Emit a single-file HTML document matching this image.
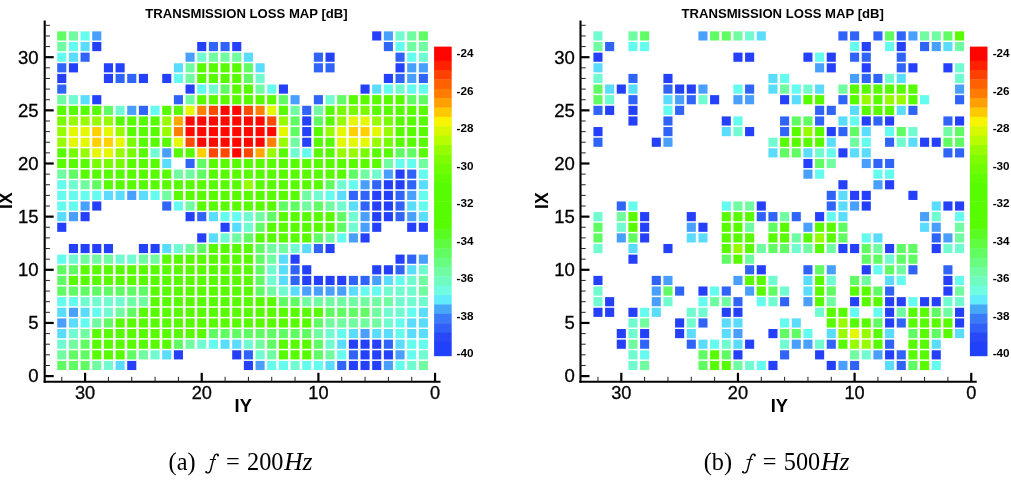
<!DOCTYPE html>
<html><head><meta charset="utf-8"><style>
html,body{margin:0;padding:0;background:#fff;}
body{width:1011px;height:483px;overflow:hidden;position:relative;}
svg{position:absolute;left:0;top:0;filter:blur(0.35px);}
rect[class]{width:9.1px;height:9.15px;}
.c0{fill:#2440fa}.c1{fill:#3064f8}.c2{fill:#48a0fc}.c3{fill:#5adcfc}.c4{fill:#64fcee}.c5{fill:#70fcd0}.c6{fill:#70fca0}.c7{fill:#60fc64}.c8{fill:#58fc00}.ch{fill:#78fc00}.c9{fill:#98fc00}.ca{fill:#e4f800}.cb{fill:#ffd000}.cc{fill:#ff8000}.cd{fill:#ff4800}.ce{fill:#ff0800}.co{fill:#ffa800}
.ax{stroke:#000;stroke-width:2.1;}
.tk{stroke:#000;stroke-width:2.2;}
.mt{stroke:#222;stroke-width:1.0;}
text{font-family:"Liberation Sans",sans-serif;fill:#000;}
.tl{font-size:17.5px;stroke:#000;stroke-width:0.3px;}
.al{font-size:17.6px;font-weight:bold;}
.tt{font-size:13.6px;font-weight:bold;}
.cl{font-size:11.7px;font-weight:bold;}
.cap{font-family:"Liberation Serif",serif;font-size:24.3px;}
</style></head><body>
<svg width="1011" height="483" viewBox="0 0 1011 483">
<rect class="c7" x="57.22" y="31.36" width="9.1" height="9.15"/>
<rect class="c6" x="68.89" y="31.36" width="9.1" height="9.15"/>
<rect class="c4" x="80.55" y="31.36" width="9.1" height="9.15"/>
<rect class="c2" x="92.22" y="31.36" width="9.1" height="9.15"/>
<rect class="c0" x="372.18" y="31.36" width="9.1" height="9.15"/>
<rect class="c2" x="383.84" y="31.36" width="9.1" height="9.15"/>
<rect class="c5" x="395.5" y="31.36" width="9.1" height="9.15"/>
<rect class="c6" x="407.17" y="31.36" width="9.1" height="9.15"/>
<rect class="c7" x="418.83" y="31.36" width="9.1" height="9.15"/>
<rect class="c6" x="57.22" y="41.99" width="9.1" height="9.15"/>
<rect class="c4" x="68.89" y="41.99" width="9.1" height="9.15"/>
<rect class="c3" x="80.55" y="41.99" width="9.1" height="9.15"/>
<rect class="c0" x="92.22" y="41.99" width="9.1" height="9.15"/>
<rect class="c0" x="197.2" y="41.99" width="9.1" height="9.15"/>
<rect class="c1" x="208.87" y="41.99" width="9.1" height="9.15"/>
<rect class="c1" x="220.53" y="41.99" width="9.1" height="9.15"/>
<rect class="c0" x="232.2" y="41.99" width="9.1" height="9.15"/>
<rect class="c1" x="383.84" y="41.99" width="9.1" height="9.15"/>
<rect class="c4" x="395.5" y="41.99" width="9.1" height="9.15"/>
<rect class="c6" x="407.17" y="41.99" width="9.1" height="9.15"/>
<rect class="c6" x="418.83" y="41.99" width="9.1" height="9.15"/>
<rect class="c4" x="57.22" y="52.62" width="9.1" height="9.15"/>
<rect class="c3" x="68.89" y="52.62" width="9.1" height="9.15"/>
<rect class="c1" x="80.55" y="52.62" width="9.1" height="9.15"/>
<rect class="c2" x="185.54" y="52.62" width="9.1" height="9.15"/>
<rect class="c5" x="197.2" y="52.62" width="9.1" height="9.15"/>
<rect class="c6" x="208.87" y="52.62" width="9.1" height="9.15"/>
<rect class="c6" x="220.53" y="52.62" width="9.1" height="9.15"/>
<rect class="c6" x="232.2" y="52.62" width="9.1" height="9.15"/>
<rect class="c3" x="243.86" y="52.62" width="9.1" height="9.15"/>
<rect class="c1" x="313.85" y="52.62" width="9.1" height="9.15"/>
<rect class="c0" x="325.52" y="52.62" width="9.1" height="9.15"/>
<rect class="c1" x="395.5" y="52.62" width="9.1" height="9.15"/>
<rect class="c4" x="407.17" y="52.62" width="9.1" height="9.15"/>
<rect class="c5" x="418.83" y="52.62" width="9.1" height="9.15"/>
<rect class="c1" x="57.22" y="63.25" width="9.1" height="9.15"/>
<rect class="c0" x="68.89" y="63.25" width="9.1" height="9.15"/>
<rect class="c0" x="103.88" y="63.25" width="9.1" height="9.15"/>
<rect class="c0" x="115.55" y="63.25" width="9.1" height="9.15"/>
<rect class="c3" x="173.87" y="63.25" width="9.1" height="9.15"/>
<rect class="c6" x="185.54" y="63.25" width="9.1" height="9.15"/>
<rect class="c8" x="197.2" y="63.25" width="9.1" height="9.15"/>
<rect class="c8" x="208.87" y="63.25" width="9.1" height="9.15"/>
<rect class="c8" x="220.53" y="63.25" width="9.1" height="9.15"/>
<rect class="c8" x="232.2" y="63.25" width="9.1" height="9.15"/>
<rect class="c7" x="243.86" y="63.25" width="9.1" height="9.15"/>
<rect class="c3" x="255.53" y="63.25" width="9.1" height="9.15"/>
<rect class="c1" x="313.85" y="63.25" width="9.1" height="9.15"/>
<rect class="c1" x="325.52" y="63.25" width="9.1" height="9.15"/>
<rect class="c0" x="395.5" y="63.25" width="9.1" height="9.15"/>
<rect class="c2" x="407.17" y="63.25" width="9.1" height="9.15"/>
<rect class="c2" x="418.83" y="63.25" width="9.1" height="9.15"/>
<rect class="c0" x="57.22" y="73.88" width="9.1" height="9.15"/>
<rect class="c0" x="103.88" y="73.88" width="9.1" height="9.15"/>
<rect class="c1" x="115.55" y="73.88" width="9.1" height="9.15"/>
<rect class="c1" x="127.21" y="73.88" width="9.1" height="9.15"/>
<rect class="c0" x="138.88" y="73.88" width="9.1" height="9.15"/>
<rect class="c0" x="162.21" y="73.88" width="9.1" height="9.15"/>
<rect class="c4" x="173.87" y="73.88" width="9.1" height="9.15"/>
<rect class="c6" x="185.54" y="73.88" width="9.1" height="9.15"/>
<rect class="c8" x="197.2" y="73.88" width="9.1" height="9.15"/>
<rect class="c8" x="208.87" y="73.88" width="9.1" height="9.15"/>
<rect class="c8" x="220.53" y="73.88" width="9.1" height="9.15"/>
<rect class="c8" x="232.2" y="73.88" width="9.1" height="9.15"/>
<rect class="c7" x="243.86" y="73.88" width="9.1" height="9.15"/>
<rect class="c5" x="255.53" y="73.88" width="9.1" height="9.15"/>
<rect class="c0" x="383.84" y="73.88" width="9.1" height="9.15"/>
<rect class="c1" x="395.5" y="73.88" width="9.1" height="9.15"/>
<rect class="c2" x="407.17" y="73.88" width="9.1" height="9.15"/>
<rect class="c1" x="418.83" y="73.88" width="9.1" height="9.15"/>
<rect class="c1" x="57.22" y="84.51" width="9.1" height="9.15"/>
<rect class="c0" x="185.54" y="84.51" width="9.1" height="9.15"/>
<rect class="c4" x="197.2" y="84.51" width="9.1" height="9.15"/>
<rect class="c5" x="208.87" y="84.51" width="9.1" height="9.15"/>
<rect class="c7" x="220.53" y="84.51" width="9.1" height="9.15"/>
<rect class="c8" x="232.2" y="84.51" width="9.1" height="9.15"/>
<rect class="c8" x="243.86" y="84.51" width="9.1" height="9.15"/>
<rect class="c6" x="255.53" y="84.51" width="9.1" height="9.15"/>
<rect class="c4" x="267.19" y="84.51" width="9.1" height="9.15"/>
<rect class="c0" x="278.86" y="84.51" width="9.1" height="9.15"/>
<rect class="c0" x="360.51" y="84.51" width="9.1" height="9.15"/>
<rect class="c3" x="372.18" y="84.51" width="9.1" height="9.15"/>
<rect class="c4" x="383.84" y="84.51" width="9.1" height="9.15"/>
<rect class="c5" x="395.5" y="84.51" width="9.1" height="9.15"/>
<rect class="c4" x="407.17" y="84.51" width="9.1" height="9.15"/>
<rect class="c4" x="418.83" y="84.51" width="9.1" height="9.15"/>
<rect class="c6" x="57.22" y="95.15" width="9.1" height="9.15"/>
<rect class="c5" x="68.89" y="95.15" width="9.1" height="9.15"/>
<rect class="c3" x="80.55" y="95.15" width="9.1" height="9.15"/>
<rect class="c0" x="92.22" y="95.15" width="9.1" height="9.15"/>
<rect class="c1" x="173.87" y="95.15" width="9.1" height="9.15"/>
<rect class="c6" x="185.54" y="95.15" width="9.1" height="9.15"/>
<rect class="c8" x="197.2" y="95.15" width="9.1" height="9.15"/>
<rect class="c8" x="208.87" y="95.15" width="9.1" height="9.15"/>
<rect class="c8" x="220.53" y="95.15" width="9.1" height="9.15"/>
<rect class="c8" x="232.2" y="95.15" width="9.1" height="9.15"/>
<rect class="c8" x="243.86" y="95.15" width="9.1" height="9.15"/>
<rect class="c8" x="255.53" y="95.15" width="9.1" height="9.15"/>
<rect class="c8" x="267.19" y="95.15" width="9.1" height="9.15"/>
<rect class="c7" x="278.86" y="95.15" width="9.1" height="9.15"/>
<rect class="c2" x="290.52" y="95.15" width="9.1" height="9.15"/>
<rect class="c1" x="313.85" y="95.15" width="9.1" height="9.15"/>
<rect class="c5" x="325.52" y="95.15" width="9.1" height="9.15"/>
<rect class="c7" x="337.18" y="95.15" width="9.1" height="9.15"/>
<rect class="c8" x="348.84" y="95.15" width="9.1" height="9.15"/>
<rect class="c8" x="360.51" y="95.15" width="9.1" height="9.15"/>
<rect class="c8" x="372.18" y="95.15" width="9.1" height="9.15"/>
<rect class="c8" x="383.84" y="95.15" width="9.1" height="9.15"/>
<rect class="c8" x="395.5" y="95.15" width="9.1" height="9.15"/>
<rect class="c7" x="407.17" y="95.15" width="9.1" height="9.15"/>
<rect class="c7" x="418.83" y="95.15" width="9.1" height="9.15"/>
<rect class="c8" x="57.22" y="105.78" width="9.1" height="9.15"/>
<rect class="c8" x="68.89" y="105.78" width="9.1" height="9.15"/>
<rect class="c8" x="80.55" y="105.78" width="9.1" height="9.15"/>
<rect class="c8" x="92.22" y="105.78" width="9.1" height="9.15"/>
<rect class="c7" x="103.88" y="105.78" width="9.1" height="9.15"/>
<rect class="c5" x="115.55" y="105.78" width="9.1" height="9.15"/>
<rect class="c2" x="127.21" y="105.78" width="9.1" height="9.15"/>
<rect class="c1" x="138.88" y="105.78" width="9.1" height="9.15"/>
<rect class="c4" x="150.54" y="105.78" width="9.1" height="9.15"/>
<rect class="c8" x="162.21" y="105.78" width="9.1" height="9.15"/>
<rect class="c8" x="173.87" y="105.78" width="9.1" height="9.15"/>
<rect class="ca" x="185.54" y="105.78" width="9.1" height="9.15"/>
<rect class="cc" x="197.2" y="105.78" width="9.1" height="9.15"/>
<rect class="cd" x="208.87" y="105.78" width="9.1" height="9.15"/>
<rect class="ce" x="220.53" y="105.78" width="9.1" height="9.15"/>
<rect class="ce" x="232.2" y="105.78" width="9.1" height="9.15"/>
<rect class="cd" x="243.86" y="105.78" width="9.1" height="9.15"/>
<rect class="cc" x="255.53" y="105.78" width="9.1" height="9.15"/>
<rect class="ca" x="267.19" y="105.78" width="9.1" height="9.15"/>
<rect class="c8" x="278.86" y="105.78" width="9.1" height="9.15"/>
<rect class="c6" x="290.52" y="105.78" width="9.1" height="9.15"/>
<rect class="c1" x="302.19" y="105.78" width="9.1" height="9.15"/>
<rect class="c6" x="313.85" y="105.78" width="9.1" height="9.15"/>
<rect class="c8" x="325.52" y="105.78" width="9.1" height="9.15"/>
<rect class="ch" x="337.18" y="105.78" width="9.1" height="9.15"/>
<rect class="ch" x="348.84" y="105.78" width="9.1" height="9.15"/>
<rect class="ch" x="360.51" y="105.78" width="9.1" height="9.15"/>
<rect class="c8" x="372.18" y="105.78" width="9.1" height="9.15"/>
<rect class="c8" x="383.84" y="105.78" width="9.1" height="9.15"/>
<rect class="c8" x="395.5" y="105.78" width="9.1" height="9.15"/>
<rect class="c8" x="407.17" y="105.78" width="9.1" height="9.15"/>
<rect class="c8" x="418.83" y="105.78" width="9.1" height="9.15"/>
<rect class="ch" x="57.22" y="116.41" width="9.1" height="9.15"/>
<rect class="c9" x="68.89" y="116.41" width="9.1" height="9.15"/>
<rect class="c9" x="80.55" y="116.41" width="9.1" height="9.15"/>
<rect class="c9" x="92.22" y="116.41" width="9.1" height="9.15"/>
<rect class="c9" x="103.88" y="116.41" width="9.1" height="9.15"/>
<rect class="c8" x="115.55" y="116.41" width="9.1" height="9.15"/>
<rect class="c8" x="127.21" y="116.41" width="9.1" height="9.15"/>
<rect class="c8" x="138.88" y="116.41" width="9.1" height="9.15"/>
<rect class="c8" x="150.54" y="116.41" width="9.1" height="9.15"/>
<rect class="c9" x="162.21" y="116.41" width="9.1" height="9.15"/>
<rect class="co" x="173.87" y="116.41" width="9.1" height="9.15"/>
<rect class="ce" x="185.54" y="116.41" width="9.1" height="9.15"/>
<rect class="ce" x="197.2" y="116.41" width="9.1" height="9.15"/>
<rect class="ce" x="208.87" y="116.41" width="9.1" height="9.15"/>
<rect class="ce" x="220.53" y="116.41" width="9.1" height="9.15"/>
<rect class="ce" x="232.2" y="116.41" width="9.1" height="9.15"/>
<rect class="ce" x="243.86" y="116.41" width="9.1" height="9.15"/>
<rect class="ce" x="255.53" y="116.41" width="9.1" height="9.15"/>
<rect class="cd" x="267.19" y="116.41" width="9.1" height="9.15"/>
<rect class="c9" x="278.86" y="116.41" width="9.1" height="9.15"/>
<rect class="c7" x="290.52" y="116.41" width="9.1" height="9.15"/>
<rect class="c0" x="302.19" y="116.41" width="9.1" height="9.15"/>
<rect class="c7" x="313.85" y="116.41" width="9.1" height="9.15"/>
<rect class="c8" x="325.52" y="116.41" width="9.1" height="9.15"/>
<rect class="c9" x="337.18" y="116.41" width="9.1" height="9.15"/>
<rect class="ca" x="348.84" y="116.41" width="9.1" height="9.15"/>
<rect class="ca" x="360.51" y="116.41" width="9.1" height="9.15"/>
<rect class="c9" x="372.18" y="116.41" width="9.1" height="9.15"/>
<rect class="ch" x="383.84" y="116.41" width="9.1" height="9.15"/>
<rect class="c8" x="395.5" y="116.41" width="9.1" height="9.15"/>
<rect class="c8" x="407.17" y="116.41" width="9.1" height="9.15"/>
<rect class="c8" x="418.83" y="116.41" width="9.1" height="9.15"/>
<rect class="c9" x="57.22" y="127.04" width="9.1" height="9.15"/>
<rect class="ca" x="68.89" y="127.04" width="9.1" height="9.15"/>
<rect class="ca" x="80.55" y="127.04" width="9.1" height="9.15"/>
<rect class="cb" x="92.22" y="127.04" width="9.1" height="9.15"/>
<rect class="ca" x="103.88" y="127.04" width="9.1" height="9.15"/>
<rect class="c9" x="115.55" y="127.04" width="9.1" height="9.15"/>
<rect class="c8" x="127.21" y="127.04" width="9.1" height="9.15"/>
<rect class="c8" x="138.88" y="127.04" width="9.1" height="9.15"/>
<rect class="c8" x="150.54" y="127.04" width="9.1" height="9.15"/>
<rect class="c9" x="162.21" y="127.04" width="9.1" height="9.15"/>
<rect class="cc" x="173.87" y="127.04" width="9.1" height="9.15"/>
<rect class="ce" x="185.54" y="127.04" width="9.1" height="9.15"/>
<rect class="ce" x="197.2" y="127.04" width="9.1" height="9.15"/>
<rect class="ce" x="208.87" y="127.04" width="9.1" height="9.15"/>
<rect class="ce" x="220.53" y="127.04" width="9.1" height="9.15"/>
<rect class="ce" x="232.2" y="127.04" width="9.1" height="9.15"/>
<rect class="ce" x="243.86" y="127.04" width="9.1" height="9.15"/>
<rect class="ce" x="255.53" y="127.04" width="9.1" height="9.15"/>
<rect class="ce" x="267.19" y="127.04" width="9.1" height="9.15"/>
<rect class="ca" x="278.86" y="127.04" width="9.1" height="9.15"/>
<rect class="c7" x="290.52" y="127.04" width="9.1" height="9.15"/>
<rect class="c0" x="302.19" y="127.04" width="9.1" height="9.15"/>
<rect class="c8" x="313.85" y="127.04" width="9.1" height="9.15"/>
<rect class="c9" x="325.52" y="127.04" width="9.1" height="9.15"/>
<rect class="ca" x="337.18" y="127.04" width="9.1" height="9.15"/>
<rect class="cb" x="348.84" y="127.04" width="9.1" height="9.15"/>
<rect class="cb" x="360.51" y="127.04" width="9.1" height="9.15"/>
<rect class="ca" x="372.18" y="127.04" width="9.1" height="9.15"/>
<rect class="c9" x="383.84" y="127.04" width="9.1" height="9.15"/>
<rect class="c8" x="395.5" y="127.04" width="9.1" height="9.15"/>
<rect class="c8" x="407.17" y="127.04" width="9.1" height="9.15"/>
<rect class="c8" x="418.83" y="127.04" width="9.1" height="9.15"/>
<rect class="c9" x="57.22" y="137.67" width="9.1" height="9.15"/>
<rect class="ca" x="68.89" y="137.67" width="9.1" height="9.15"/>
<rect class="ca" x="80.55" y="137.67" width="9.1" height="9.15"/>
<rect class="cb" x="92.22" y="137.67" width="9.1" height="9.15"/>
<rect class="cb" x="103.88" y="137.67" width="9.1" height="9.15"/>
<rect class="ca" x="115.55" y="137.67" width="9.1" height="9.15"/>
<rect class="ch" x="127.21" y="137.67" width="9.1" height="9.15"/>
<rect class="c8" x="138.88" y="137.67" width="9.1" height="9.15"/>
<rect class="c8" x="150.54" y="137.67" width="9.1" height="9.15"/>
<rect class="c8" x="162.21" y="137.67" width="9.1" height="9.15"/>
<rect class="ca" x="173.87" y="137.67" width="9.1" height="9.15"/>
<rect class="cd" x="185.54" y="137.67" width="9.1" height="9.15"/>
<rect class="ce" x="197.2" y="137.67" width="9.1" height="9.15"/>
<rect class="ce" x="208.87" y="137.67" width="9.1" height="9.15"/>
<rect class="ce" x="220.53" y="137.67" width="9.1" height="9.15"/>
<rect class="ce" x="232.2" y="137.67" width="9.1" height="9.15"/>
<rect class="ce" x="243.86" y="137.67" width="9.1" height="9.15"/>
<rect class="ce" x="255.53" y="137.67" width="9.1" height="9.15"/>
<rect class="cc" x="267.19" y="137.67" width="9.1" height="9.15"/>
<rect class="c9" x="278.86" y="137.67" width="9.1" height="9.15"/>
<rect class="c6" x="290.52" y="137.67" width="9.1" height="9.15"/>
<rect class="c0" x="302.19" y="137.67" width="9.1" height="9.15"/>
<rect class="c8" x="313.85" y="137.67" width="9.1" height="9.15"/>
<rect class="c8" x="325.52" y="137.67" width="9.1" height="9.15"/>
<rect class="ca" x="337.18" y="137.67" width="9.1" height="9.15"/>
<rect class="ca" x="348.84" y="137.67" width="9.1" height="9.15"/>
<rect class="ca" x="360.51" y="137.67" width="9.1" height="9.15"/>
<rect class="c9" x="372.18" y="137.67" width="9.1" height="9.15"/>
<rect class="ch" x="383.84" y="137.67" width="9.1" height="9.15"/>
<rect class="c8" x="395.5" y="137.67" width="9.1" height="9.15"/>
<rect class="c8" x="407.17" y="137.67" width="9.1" height="9.15"/>
<rect class="c8" x="418.83" y="137.67" width="9.1" height="9.15"/>
<rect class="c8" x="57.22" y="148.3" width="9.1" height="9.15"/>
<rect class="ch" x="68.89" y="148.3" width="9.1" height="9.15"/>
<rect class="c9" x="80.55" y="148.3" width="9.1" height="9.15"/>
<rect class="ca" x="92.22" y="148.3" width="9.1" height="9.15"/>
<rect class="ca" x="103.88" y="148.3" width="9.1" height="9.15"/>
<rect class="c9" x="115.55" y="148.3" width="9.1" height="9.15"/>
<rect class="ch" x="127.21" y="148.3" width="9.1" height="9.15"/>
<rect class="c8" x="138.88" y="148.3" width="9.1" height="9.15"/>
<rect class="c5" x="150.54" y="148.3" width="9.1" height="9.15"/>
<rect class="c2" x="162.21" y="148.3" width="9.1" height="9.15"/>
<rect class="c8" x="173.87" y="148.3" width="9.1" height="9.15"/>
<rect class="c8" x="185.54" y="148.3" width="9.1" height="9.15"/>
<rect class="cb" x="197.2" y="148.3" width="9.1" height="9.15"/>
<rect class="cd" x="208.87" y="148.3" width="9.1" height="9.15"/>
<rect class="cd" x="220.53" y="148.3" width="9.1" height="9.15"/>
<rect class="ce" x="232.2" y="148.3" width="9.1" height="9.15"/>
<rect class="cd" x="243.86" y="148.3" width="9.1" height="9.15"/>
<rect class="co" x="255.53" y="148.3" width="9.1" height="9.15"/>
<rect class="c9" x="267.19" y="148.3" width="9.1" height="9.15"/>
<rect class="c8" x="278.86" y="148.3" width="9.1" height="9.15"/>
<rect class="c5" x="290.52" y="148.3" width="9.1" height="9.15"/>
<rect class="c4" x="302.19" y="148.3" width="9.1" height="9.15"/>
<rect class="c8" x="313.85" y="148.3" width="9.1" height="9.15"/>
<rect class="c8" x="325.52" y="148.3" width="9.1" height="9.15"/>
<rect class="c9" x="337.18" y="148.3" width="9.1" height="9.15"/>
<rect class="c9" x="348.84" y="148.3" width="9.1" height="9.15"/>
<rect class="ch" x="360.51" y="148.3" width="9.1" height="9.15"/>
<rect class="c8" x="372.18" y="148.3" width="9.1" height="9.15"/>
<rect class="c8" x="383.84" y="148.3" width="9.1" height="9.15"/>
<rect class="c7" x="395.5" y="148.3" width="9.1" height="9.15"/>
<rect class="c7" x="407.17" y="148.3" width="9.1" height="9.15"/>
<rect class="c8" x="418.83" y="148.3" width="9.1" height="9.15"/>
<rect class="c8" x="57.22" y="158.93" width="9.1" height="9.15"/>
<rect class="c8" x="68.89" y="158.93" width="9.1" height="9.15"/>
<rect class="c8" x="80.55" y="158.93" width="9.1" height="9.15"/>
<rect class="ch" x="92.22" y="158.93" width="9.1" height="9.15"/>
<rect class="ch" x="103.88" y="158.93" width="9.1" height="9.15"/>
<rect class="ch" x="115.55" y="158.93" width="9.1" height="9.15"/>
<rect class="c8" x="127.21" y="158.93" width="9.1" height="9.15"/>
<rect class="c8" x="138.88" y="158.93" width="9.1" height="9.15"/>
<rect class="c8" x="150.54" y="158.93" width="9.1" height="9.15"/>
<rect class="c3" x="162.21" y="158.93" width="9.1" height="9.15"/>
<rect class="c1" x="185.54" y="158.93" width="9.1" height="9.15"/>
<rect class="c7" x="197.2" y="158.93" width="9.1" height="9.15"/>
<rect class="c8" x="208.87" y="158.93" width="9.1" height="9.15"/>
<rect class="c8" x="220.53" y="158.93" width="9.1" height="9.15"/>
<rect class="c8" x="232.2" y="158.93" width="9.1" height="9.15"/>
<rect class="c8" x="243.86" y="158.93" width="9.1" height="9.15"/>
<rect class="c8" x="255.53" y="158.93" width="9.1" height="9.15"/>
<rect class="c8" x="267.19" y="158.93" width="9.1" height="9.15"/>
<rect class="c8" x="278.86" y="158.93" width="9.1" height="9.15"/>
<rect class="c8" x="290.52" y="158.93" width="9.1" height="9.15"/>
<rect class="c8" x="302.19" y="158.93" width="9.1" height="9.15"/>
<rect class="c8" x="313.85" y="158.93" width="9.1" height="9.15"/>
<rect class="c8" x="325.52" y="158.93" width="9.1" height="9.15"/>
<rect class="c8" x="337.18" y="158.93" width="9.1" height="9.15"/>
<rect class="c8" x="348.84" y="158.93" width="9.1" height="9.15"/>
<rect class="c8" x="360.51" y="158.93" width="9.1" height="9.15"/>
<rect class="c8" x="372.18" y="158.93" width="9.1" height="9.15"/>
<rect class="c6" x="383.84" y="158.93" width="9.1" height="9.15"/>
<rect class="c4" x="395.5" y="158.93" width="9.1" height="9.15"/>
<rect class="c4" x="407.17" y="158.93" width="9.1" height="9.15"/>
<rect class="c6" x="418.83" y="158.93" width="9.1" height="9.15"/>
<rect class="c6" x="57.22" y="169.56" width="9.1" height="9.15"/>
<rect class="c7" x="68.89" y="169.56" width="9.1" height="9.15"/>
<rect class="c8" x="80.55" y="169.56" width="9.1" height="9.15"/>
<rect class="c8" x="92.22" y="169.56" width="9.1" height="9.15"/>
<rect class="c8" x="103.88" y="169.56" width="9.1" height="9.15"/>
<rect class="c8" x="115.55" y="169.56" width="9.1" height="9.15"/>
<rect class="c8" x="127.21" y="169.56" width="9.1" height="9.15"/>
<rect class="c8" x="138.88" y="169.56" width="9.1" height="9.15"/>
<rect class="c8" x="150.54" y="169.56" width="9.1" height="9.15"/>
<rect class="c8" x="162.21" y="169.56" width="9.1" height="9.15"/>
<rect class="c6" x="173.87" y="169.56" width="9.1" height="9.15"/>
<rect class="c6" x="185.54" y="169.56" width="9.1" height="9.15"/>
<rect class="c7" x="197.2" y="169.56" width="9.1" height="9.15"/>
<rect class="c8" x="208.87" y="169.56" width="9.1" height="9.15"/>
<rect class="c8" x="220.53" y="169.56" width="9.1" height="9.15"/>
<rect class="c8" x="232.2" y="169.56" width="9.1" height="9.15"/>
<rect class="c8" x="243.86" y="169.56" width="9.1" height="9.15"/>
<rect class="c8" x="255.53" y="169.56" width="9.1" height="9.15"/>
<rect class="c8" x="267.19" y="169.56" width="9.1" height="9.15"/>
<rect class="c8" x="278.86" y="169.56" width="9.1" height="9.15"/>
<rect class="c8" x="290.52" y="169.56" width="9.1" height="9.15"/>
<rect class="c8" x="302.19" y="169.56" width="9.1" height="9.15"/>
<rect class="c8" x="313.85" y="169.56" width="9.1" height="9.15"/>
<rect class="c8" x="325.52" y="169.56" width="9.1" height="9.15"/>
<rect class="c8" x="337.18" y="169.56" width="9.1" height="9.15"/>
<rect class="c7" x="348.84" y="169.56" width="9.1" height="9.15"/>
<rect class="c6" x="360.51" y="169.56" width="9.1" height="9.15"/>
<rect class="c5" x="372.18" y="169.56" width="9.1" height="9.15"/>
<rect class="c2" x="383.84" y="169.56" width="9.1" height="9.15"/>
<rect class="c0" x="395.5" y="169.56" width="9.1" height="9.15"/>
<rect class="c1" x="407.17" y="169.56" width="9.1" height="9.15"/>
<rect class="c4" x="418.83" y="169.56" width="9.1" height="9.15"/>
<rect class="c4" x="57.22" y="180.19" width="9.1" height="9.15"/>
<rect class="c5" x="68.89" y="180.19" width="9.1" height="9.15"/>
<rect class="c6" x="80.55" y="180.19" width="9.1" height="9.15"/>
<rect class="c7" x="92.22" y="180.19" width="9.1" height="9.15"/>
<rect class="c8" x="103.88" y="180.19" width="9.1" height="9.15"/>
<rect class="c8" x="115.55" y="180.19" width="9.1" height="9.15"/>
<rect class="c8" x="127.21" y="180.19" width="9.1" height="9.15"/>
<rect class="c8" x="138.88" y="180.19" width="9.1" height="9.15"/>
<rect class="c8" x="150.54" y="180.19" width="9.1" height="9.15"/>
<rect class="c8" x="162.21" y="180.19" width="9.1" height="9.15"/>
<rect class="c8" x="173.87" y="180.19" width="9.1" height="9.15"/>
<rect class="c8" x="185.54" y="180.19" width="9.1" height="9.15"/>
<rect class="c8" x="197.2" y="180.19" width="9.1" height="9.15"/>
<rect class="c8" x="208.87" y="180.19" width="9.1" height="9.15"/>
<rect class="c8" x="220.53" y="180.19" width="9.1" height="9.15"/>
<rect class="c8" x="232.2" y="180.19" width="9.1" height="9.15"/>
<rect class="c9" x="243.86" y="180.19" width="9.1" height="9.15"/>
<rect class="c8" x="255.53" y="180.19" width="9.1" height="9.15"/>
<rect class="c8" x="267.19" y="180.19" width="9.1" height="9.15"/>
<rect class="c8" x="278.86" y="180.19" width="9.1" height="9.15"/>
<rect class="c8" x="290.52" y="180.19" width="9.1" height="9.15"/>
<rect class="c8" x="302.19" y="180.19" width="9.1" height="9.15"/>
<rect class="c8" x="313.85" y="180.19" width="9.1" height="9.15"/>
<rect class="c7" x="325.52" y="180.19" width="9.1" height="9.15"/>
<rect class="c5" x="337.18" y="180.19" width="9.1" height="9.15"/>
<rect class="c4" x="348.84" y="180.19" width="9.1" height="9.15"/>
<rect class="c2" x="360.51" y="180.19" width="9.1" height="9.15"/>
<rect class="c1" x="372.18" y="180.19" width="9.1" height="9.15"/>
<rect class="c0" x="383.84" y="180.19" width="9.1" height="9.15"/>
<rect class="c0" x="395.5" y="180.19" width="9.1" height="9.15"/>
<rect class="c1" x="407.17" y="180.19" width="9.1" height="9.15"/>
<rect class="c3" x="418.83" y="180.19" width="9.1" height="9.15"/>
<rect class="c4" x="57.22" y="190.82" width="9.1" height="9.15"/>
<rect class="c4" x="68.89" y="190.82" width="9.1" height="9.15"/>
<rect class="c4" x="80.55" y="190.82" width="9.1" height="9.15"/>
<rect class="c4" x="92.22" y="190.82" width="9.1" height="9.15"/>
<rect class="c3" x="103.88" y="190.82" width="9.1" height="9.15"/>
<rect class="c3" x="115.55" y="190.82" width="9.1" height="9.15"/>
<rect class="c2" x="127.21" y="190.82" width="9.1" height="9.15"/>
<rect class="c3" x="138.88" y="190.82" width="9.1" height="9.15"/>
<rect class="c4" x="150.54" y="190.82" width="9.1" height="9.15"/>
<rect class="c6" x="162.21" y="190.82" width="9.1" height="9.15"/>
<rect class="c8" x="173.87" y="190.82" width="9.1" height="9.15"/>
<rect class="c8" x="185.54" y="190.82" width="9.1" height="9.15"/>
<rect class="c8" x="197.2" y="190.82" width="9.1" height="9.15"/>
<rect class="c8" x="208.87" y="190.82" width="9.1" height="9.15"/>
<rect class="c8" x="220.53" y="190.82" width="9.1" height="9.15"/>
<rect class="c8" x="232.2" y="190.82" width="9.1" height="9.15"/>
<rect class="c8" x="243.86" y="190.82" width="9.1" height="9.15"/>
<rect class="c8" x="255.53" y="190.82" width="9.1" height="9.15"/>
<rect class="c8" x="267.19" y="190.82" width="9.1" height="9.15"/>
<rect class="c8" x="278.86" y="190.82" width="9.1" height="9.15"/>
<rect class="c8" x="290.52" y="190.82" width="9.1" height="9.15"/>
<rect class="c6" x="302.19" y="190.82" width="9.1" height="9.15"/>
<rect class="c5" x="313.85" y="190.82" width="9.1" height="9.15"/>
<rect class="c4" x="325.52" y="190.82" width="9.1" height="9.15"/>
<rect class="c3" x="337.18" y="190.82" width="9.1" height="9.15"/>
<rect class="c1" x="348.84" y="190.82" width="9.1" height="9.15"/>
<rect class="c1" x="360.51" y="190.82" width="9.1" height="9.15"/>
<rect class="c0" x="372.18" y="190.82" width="9.1" height="9.15"/>
<rect class="c0" x="383.84" y="190.82" width="9.1" height="9.15"/>
<rect class="c1" x="395.5" y="190.82" width="9.1" height="9.15"/>
<rect class="c2" x="407.17" y="190.82" width="9.1" height="9.15"/>
<rect class="c4" x="418.83" y="190.82" width="9.1" height="9.15"/>
<rect class="c4" x="57.22" y="201.45" width="9.1" height="9.15"/>
<rect class="c4" x="68.89" y="201.45" width="9.1" height="9.15"/>
<rect class="c2" x="80.55" y="201.45" width="9.1" height="9.15"/>
<rect class="c0" x="92.22" y="201.45" width="9.1" height="9.15"/>
<rect class="c1" x="162.21" y="201.45" width="9.1" height="9.15"/>
<rect class="c4" x="173.87" y="201.45" width="9.1" height="9.15"/>
<rect class="c6" x="185.54" y="201.45" width="9.1" height="9.15"/>
<rect class="c8" x="197.2" y="201.45" width="9.1" height="9.15"/>
<rect class="c8" x="208.87" y="201.45" width="9.1" height="9.15"/>
<rect class="c8" x="220.53" y="201.45" width="9.1" height="9.15"/>
<rect class="c8" x="232.2" y="201.45" width="9.1" height="9.15"/>
<rect class="c8" x="243.86" y="201.45" width="9.1" height="9.15"/>
<rect class="c8" x="255.53" y="201.45" width="9.1" height="9.15"/>
<rect class="c8" x="267.19" y="201.45" width="9.1" height="9.15"/>
<rect class="c7" x="278.86" y="201.45" width="9.1" height="9.15"/>
<rect class="c7" x="290.52" y="201.45" width="9.1" height="9.15"/>
<rect class="c6" x="302.19" y="201.45" width="9.1" height="9.15"/>
<rect class="c7" x="313.85" y="201.45" width="9.1" height="9.15"/>
<rect class="c6" x="325.52" y="201.45" width="9.1" height="9.15"/>
<rect class="c5" x="337.18" y="201.45" width="9.1" height="9.15"/>
<rect class="c3" x="348.84" y="201.45" width="9.1" height="9.15"/>
<rect class="c1" x="360.51" y="201.45" width="9.1" height="9.15"/>
<rect class="c0" x="372.18" y="201.45" width="9.1" height="9.15"/>
<rect class="c0" x="383.84" y="201.45" width="9.1" height="9.15"/>
<rect class="c1" x="395.5" y="201.45" width="9.1" height="9.15"/>
<rect class="c3" x="407.17" y="201.45" width="9.1" height="9.15"/>
<rect class="c4" x="418.83" y="201.45" width="9.1" height="9.15"/>
<rect class="c3" x="57.22" y="212.08" width="9.1" height="9.15"/>
<rect class="c2" x="68.89" y="212.08" width="9.1" height="9.15"/>
<rect class="c0" x="80.55" y="212.08" width="9.1" height="9.15"/>
<rect class="c0" x="185.54" y="212.08" width="9.1" height="9.15"/>
<rect class="c1" x="197.2" y="212.08" width="9.1" height="9.15"/>
<rect class="c3" x="208.87" y="212.08" width="9.1" height="9.15"/>
<rect class="c4" x="220.53" y="212.08" width="9.1" height="9.15"/>
<rect class="c4" x="232.2" y="212.08" width="9.1" height="9.15"/>
<rect class="c5" x="243.86" y="212.08" width="9.1" height="9.15"/>
<rect class="c6" x="255.53" y="212.08" width="9.1" height="9.15"/>
<rect class="c7" x="267.19" y="212.08" width="9.1" height="9.15"/>
<rect class="c8" x="278.86" y="212.08" width="9.1" height="9.15"/>
<rect class="c8" x="290.52" y="212.08" width="9.1" height="9.15"/>
<rect class="c8" x="302.19" y="212.08" width="9.1" height="9.15"/>
<rect class="c8" x="313.85" y="212.08" width="9.1" height="9.15"/>
<rect class="c8" x="325.52" y="212.08" width="9.1" height="9.15"/>
<rect class="c7" x="337.18" y="212.08" width="9.1" height="9.15"/>
<rect class="c5" x="348.84" y="212.08" width="9.1" height="9.15"/>
<rect class="c2" x="360.51" y="212.08" width="9.1" height="9.15"/>
<rect class="c0" x="372.18" y="212.08" width="9.1" height="9.15"/>
<rect class="c0" x="383.84" y="212.08" width="9.1" height="9.15"/>
<rect class="c1" x="395.5" y="212.08" width="9.1" height="9.15"/>
<rect class="c2" x="407.17" y="212.08" width="9.1" height="9.15"/>
<rect class="c3" x="418.83" y="212.08" width="9.1" height="9.15"/>
<rect class="c0" x="57.22" y="222.71" width="9.1" height="9.15"/>
<rect class="c0" x="220.53" y="222.71" width="9.1" height="9.15"/>
<rect class="c3" x="232.2" y="222.71" width="9.1" height="9.15"/>
<rect class="c5" x="243.86" y="222.71" width="9.1" height="9.15"/>
<rect class="c7" x="255.53" y="222.71" width="9.1" height="9.15"/>
<rect class="c8" x="267.19" y="222.71" width="9.1" height="9.15"/>
<rect class="c8" x="278.86" y="222.71" width="9.1" height="9.15"/>
<rect class="c8" x="290.52" y="222.71" width="9.1" height="9.15"/>
<rect class="c8" x="302.19" y="222.71" width="9.1" height="9.15"/>
<rect class="c8" x="313.85" y="222.71" width="9.1" height="9.15"/>
<rect class="c8" x="325.52" y="222.71" width="9.1" height="9.15"/>
<rect class="c7" x="337.18" y="222.71" width="9.1" height="9.15"/>
<rect class="c5" x="348.84" y="222.71" width="9.1" height="9.15"/>
<rect class="c2" x="360.51" y="222.71" width="9.1" height="9.15"/>
<rect class="c0" x="372.18" y="222.71" width="9.1" height="9.15"/>
<rect class="c0" x="407.17" y="222.71" width="9.1" height="9.15"/>
<rect class="c0" x="418.83" y="222.71" width="9.1" height="9.15"/>
<rect class="c0" x="197.2" y="233.34" width="9.1" height="9.15"/>
<rect class="c3" x="208.87" y="233.34" width="9.1" height="9.15"/>
<rect class="c5" x="220.53" y="233.34" width="9.1" height="9.15"/>
<rect class="c6" x="232.2" y="233.34" width="9.1" height="9.15"/>
<rect class="c7" x="243.86" y="233.34" width="9.1" height="9.15"/>
<rect class="c8" x="255.53" y="233.34" width="9.1" height="9.15"/>
<rect class="c8" x="267.19" y="233.34" width="9.1" height="9.15"/>
<rect class="c8" x="278.86" y="233.34" width="9.1" height="9.15"/>
<rect class="c8" x="290.52" y="233.34" width="9.1" height="9.15"/>
<rect class="c8" x="302.19" y="233.34" width="9.1" height="9.15"/>
<rect class="c7" x="313.85" y="233.34" width="9.1" height="9.15"/>
<rect class="c6" x="325.52" y="233.34" width="9.1" height="9.15"/>
<rect class="c4" x="337.18" y="233.34" width="9.1" height="9.15"/>
<rect class="c2" x="348.84" y="233.34" width="9.1" height="9.15"/>
<rect class="c0" x="360.51" y="233.34" width="9.1" height="9.15"/>
<rect class="c0" x="68.89" y="243.97" width="9.1" height="9.15"/>
<rect class="c0" x="80.55" y="243.97" width="9.1" height="9.15"/>
<rect class="c0" x="92.22" y="243.97" width="9.1" height="9.15"/>
<rect class="c0" x="103.88" y="243.97" width="9.1" height="9.15"/>
<rect class="c0" x="138.88" y="243.97" width="9.1" height="9.15"/>
<rect class="c0" x="150.54" y="243.97" width="9.1" height="9.15"/>
<rect class="c3" x="162.21" y="243.97" width="9.1" height="9.15"/>
<rect class="c5" x="173.87" y="243.97" width="9.1" height="9.15"/>
<rect class="c6" x="185.54" y="243.97" width="9.1" height="9.15"/>
<rect class="c7" x="197.2" y="243.97" width="9.1" height="9.15"/>
<rect class="c8" x="208.87" y="243.97" width="9.1" height="9.15"/>
<rect class="c8" x="220.53" y="243.97" width="9.1" height="9.15"/>
<rect class="c8" x="232.2" y="243.97" width="9.1" height="9.15"/>
<rect class="c8" x="243.86" y="243.97" width="9.1" height="9.15"/>
<rect class="c7" x="255.53" y="243.97" width="9.1" height="9.15"/>
<rect class="c6" x="267.19" y="243.97" width="9.1" height="9.15"/>
<rect class="c6" x="278.86" y="243.97" width="9.1" height="9.15"/>
<rect class="c5" x="290.52" y="243.97" width="9.1" height="9.15"/>
<rect class="c3" x="302.19" y="243.97" width="9.1" height="9.15"/>
<rect class="c1" x="313.85" y="243.97" width="9.1" height="9.15"/>
<rect class="c0" x="325.52" y="243.97" width="9.1" height="9.15"/>
<rect class="c4" x="57.22" y="254.6" width="9.1" height="9.15"/>
<rect class="c5" x="68.89" y="254.6" width="9.1" height="9.15"/>
<rect class="c6" x="80.55" y="254.6" width="9.1" height="9.15"/>
<rect class="c6" x="92.22" y="254.6" width="9.1" height="9.15"/>
<rect class="c6" x="103.88" y="254.6" width="9.1" height="9.15"/>
<rect class="c5" x="115.55" y="254.6" width="9.1" height="9.15"/>
<rect class="c5" x="127.21" y="254.6" width="9.1" height="9.15"/>
<rect class="c6" x="138.88" y="254.6" width="9.1" height="9.15"/>
<rect class="c6" x="150.54" y="254.6" width="9.1" height="9.15"/>
<rect class="c8" x="162.21" y="254.6" width="9.1" height="9.15"/>
<rect class="c8" x="173.87" y="254.6" width="9.1" height="9.15"/>
<rect class="c8" x="185.54" y="254.6" width="9.1" height="9.15"/>
<rect class="c8" x="197.2" y="254.6" width="9.1" height="9.15"/>
<rect class="c8" x="208.87" y="254.6" width="9.1" height="9.15"/>
<rect class="c8" x="220.53" y="254.6" width="9.1" height="9.15"/>
<rect class="c8" x="232.2" y="254.6" width="9.1" height="9.15"/>
<rect class="c8" x="243.86" y="254.6" width="9.1" height="9.15"/>
<rect class="c7" x="255.53" y="254.6" width="9.1" height="9.15"/>
<rect class="c6" x="267.19" y="254.6" width="9.1" height="9.15"/>
<rect class="c3" x="278.86" y="254.6" width="9.1" height="9.15"/>
<rect class="c0" x="290.52" y="254.6" width="9.1" height="9.15"/>
<rect class="c0" x="395.5" y="254.6" width="9.1" height="9.15"/>
<rect class="c1" x="407.17" y="254.6" width="9.1" height="9.15"/>
<rect class="c2" x="418.83" y="254.6" width="9.1" height="9.15"/>
<rect class="c7" x="57.22" y="265.23" width="9.1" height="9.15"/>
<rect class="c7" x="68.89" y="265.23" width="9.1" height="9.15"/>
<rect class="c8" x="80.55" y="265.23" width="9.1" height="9.15"/>
<rect class="c8" x="92.22" y="265.23" width="9.1" height="9.15"/>
<rect class="c8" x="103.88" y="265.23" width="9.1" height="9.15"/>
<rect class="c8" x="115.55" y="265.23" width="9.1" height="9.15"/>
<rect class="c8" x="127.21" y="265.23" width="9.1" height="9.15"/>
<rect class="c8" x="138.88" y="265.23" width="9.1" height="9.15"/>
<rect class="c8" x="150.54" y="265.23" width="9.1" height="9.15"/>
<rect class="c8" x="162.21" y="265.23" width="9.1" height="9.15"/>
<rect class="c8" x="173.87" y="265.23" width="9.1" height="9.15"/>
<rect class="c8" x="185.54" y="265.23" width="9.1" height="9.15"/>
<rect class="c8" x="197.2" y="265.23" width="9.1" height="9.15"/>
<rect class="c8" x="208.87" y="265.23" width="9.1" height="9.15"/>
<rect class="c8" x="220.53" y="265.23" width="9.1" height="9.15"/>
<rect class="c8" x="232.2" y="265.23" width="9.1" height="9.15"/>
<rect class="c8" x="243.86" y="265.23" width="9.1" height="9.15"/>
<rect class="c7" x="255.53" y="265.23" width="9.1" height="9.15"/>
<rect class="c5" x="267.19" y="265.23" width="9.1" height="9.15"/>
<rect class="c3" x="278.86" y="265.23" width="9.1" height="9.15"/>
<rect class="c1" x="290.52" y="265.23" width="9.1" height="9.15"/>
<rect class="c0" x="302.19" y="265.23" width="9.1" height="9.15"/>
<rect class="c0" x="372.18" y="265.23" width="9.1" height="9.15"/>
<rect class="c0" x="383.84" y="265.23" width="9.1" height="9.15"/>
<rect class="c1" x="395.5" y="265.23" width="9.1" height="9.15"/>
<rect class="c3" x="407.17" y="265.23" width="9.1" height="9.15"/>
<rect class="c5" x="418.83" y="265.23" width="9.1" height="9.15"/>
<rect class="c7" x="57.22" y="275.86" width="9.1" height="9.15"/>
<rect class="c8" x="68.89" y="275.86" width="9.1" height="9.15"/>
<rect class="c8" x="80.55" y="275.86" width="9.1" height="9.15"/>
<rect class="c8" x="92.22" y="275.86" width="9.1" height="9.15"/>
<rect class="c8" x="103.88" y="275.86" width="9.1" height="9.15"/>
<rect class="c8" x="115.55" y="275.86" width="9.1" height="9.15"/>
<rect class="c8" x="127.21" y="275.86" width="9.1" height="9.15"/>
<rect class="c8" x="138.88" y="275.86" width="9.1" height="9.15"/>
<rect class="c8" x="150.54" y="275.86" width="9.1" height="9.15"/>
<rect class="c8" x="162.21" y="275.86" width="9.1" height="9.15"/>
<rect class="c8" x="173.87" y="275.86" width="9.1" height="9.15"/>
<rect class="c8" x="185.54" y="275.86" width="9.1" height="9.15"/>
<rect class="c8" x="197.2" y="275.86" width="9.1" height="9.15"/>
<rect class="c8" x="208.87" y="275.86" width="9.1" height="9.15"/>
<rect class="c8" x="220.53" y="275.86" width="9.1" height="9.15"/>
<rect class="c8" x="232.2" y="275.86" width="9.1" height="9.15"/>
<rect class="c8" x="243.86" y="275.86" width="9.1" height="9.15"/>
<rect class="c7" x="255.53" y="275.86" width="9.1" height="9.15"/>
<rect class="c5" x="267.19" y="275.86" width="9.1" height="9.15"/>
<rect class="c3" x="278.86" y="275.86" width="9.1" height="9.15"/>
<rect class="c1" x="290.52" y="275.86" width="9.1" height="9.15"/>
<rect class="c0" x="302.19" y="275.86" width="9.1" height="9.15"/>
<rect class="c0" x="313.85" y="275.86" width="9.1" height="9.15"/>
<rect class="c0" x="325.52" y="275.86" width="9.1" height="9.15"/>
<rect class="c0" x="337.18" y="275.86" width="9.1" height="9.15"/>
<rect class="c1" x="348.84" y="275.86" width="9.1" height="9.15"/>
<rect class="c1" x="360.51" y="275.86" width="9.1" height="9.15"/>
<rect class="c2" x="372.18" y="275.86" width="9.1" height="9.15"/>
<rect class="c3" x="383.84" y="275.86" width="9.1" height="9.15"/>
<rect class="c4" x="395.5" y="275.86" width="9.1" height="9.15"/>
<rect class="c5" x="407.17" y="275.86" width="9.1" height="9.15"/>
<rect class="c6" x="418.83" y="275.86" width="9.1" height="9.15"/>
<rect class="c7" x="57.22" y="286.49" width="9.1" height="9.15"/>
<rect class="c7" x="68.89" y="286.49" width="9.1" height="9.15"/>
<rect class="c7" x="80.55" y="286.49" width="9.1" height="9.15"/>
<rect class="c7" x="92.22" y="286.49" width="9.1" height="9.15"/>
<rect class="c7" x="103.88" y="286.49" width="9.1" height="9.15"/>
<rect class="c7" x="115.55" y="286.49" width="9.1" height="9.15"/>
<rect class="c7" x="127.21" y="286.49" width="9.1" height="9.15"/>
<rect class="c7" x="138.88" y="286.49" width="9.1" height="9.15"/>
<rect class="c8" x="150.54" y="286.49" width="9.1" height="9.15"/>
<rect class="c8" x="162.21" y="286.49" width="9.1" height="9.15"/>
<rect class="c8" x="173.87" y="286.49" width="9.1" height="9.15"/>
<rect class="c8" x="185.54" y="286.49" width="9.1" height="9.15"/>
<rect class="c8" x="197.2" y="286.49" width="9.1" height="9.15"/>
<rect class="c8" x="208.87" y="286.49" width="9.1" height="9.15"/>
<rect class="c8" x="220.53" y="286.49" width="9.1" height="9.15"/>
<rect class="c8" x="232.2" y="286.49" width="9.1" height="9.15"/>
<rect class="c8" x="243.86" y="286.49" width="9.1" height="9.15"/>
<rect class="c7" x="255.53" y="286.49" width="9.1" height="9.15"/>
<rect class="c6" x="267.19" y="286.49" width="9.1" height="9.15"/>
<rect class="c5" x="278.86" y="286.49" width="9.1" height="9.15"/>
<rect class="c3" x="290.52" y="286.49" width="9.1" height="9.15"/>
<rect class="c2" x="302.19" y="286.49" width="9.1" height="9.15"/>
<rect class="c2" x="313.85" y="286.49" width="9.1" height="9.15"/>
<rect class="c2" x="325.52" y="286.49" width="9.1" height="9.15"/>
<rect class="c2" x="337.18" y="286.49" width="9.1" height="9.15"/>
<rect class="c3" x="348.84" y="286.49" width="9.1" height="9.15"/>
<rect class="c4" x="360.51" y="286.49" width="9.1" height="9.15"/>
<rect class="c4" x="372.18" y="286.49" width="9.1" height="9.15"/>
<rect class="c5" x="383.84" y="286.49" width="9.1" height="9.15"/>
<rect class="c5" x="395.5" y="286.49" width="9.1" height="9.15"/>
<rect class="c5" x="407.17" y="286.49" width="9.1" height="9.15"/>
<rect class="c6" x="418.83" y="286.49" width="9.1" height="9.15"/>
<rect class="c4" x="57.22" y="297.12" width="9.1" height="9.15"/>
<rect class="c4" x="68.89" y="297.12" width="9.1" height="9.15"/>
<rect class="c5" x="80.55" y="297.12" width="9.1" height="9.15"/>
<rect class="c5" x="92.22" y="297.12" width="9.1" height="9.15"/>
<rect class="c5" x="103.88" y="297.12" width="9.1" height="9.15"/>
<rect class="c5" x="115.55" y="297.12" width="9.1" height="9.15"/>
<rect class="c6" x="127.21" y="297.12" width="9.1" height="9.15"/>
<rect class="c6" x="138.88" y="297.12" width="9.1" height="9.15"/>
<rect class="c8" x="150.54" y="297.12" width="9.1" height="9.15"/>
<rect class="c8" x="162.21" y="297.12" width="9.1" height="9.15"/>
<rect class="c8" x="173.87" y="297.12" width="9.1" height="9.15"/>
<rect class="c8" x="185.54" y="297.12" width="9.1" height="9.15"/>
<rect class="c8" x="197.2" y="297.12" width="9.1" height="9.15"/>
<rect class="c8" x="208.87" y="297.12" width="9.1" height="9.15"/>
<rect class="c8" x="220.53" y="297.12" width="9.1" height="9.15"/>
<rect class="c8" x="232.2" y="297.12" width="9.1" height="9.15"/>
<rect class="c8" x="243.86" y="297.12" width="9.1" height="9.15"/>
<rect class="c8" x="255.53" y="297.12" width="9.1" height="9.15"/>
<rect class="c8" x="267.19" y="297.12" width="9.1" height="9.15"/>
<rect class="c7" x="278.86" y="297.12" width="9.1" height="9.15"/>
<rect class="c7" x="290.52" y="297.12" width="9.1" height="9.15"/>
<rect class="c6" x="302.19" y="297.12" width="9.1" height="9.15"/>
<rect class="c6" x="313.85" y="297.12" width="9.1" height="9.15"/>
<rect class="c6" x="325.52" y="297.12" width="9.1" height="9.15"/>
<rect class="c6" x="337.18" y="297.12" width="9.1" height="9.15"/>
<rect class="c6" x="348.84" y="297.12" width="9.1" height="9.15"/>
<rect class="c6" x="360.51" y="297.12" width="9.1" height="9.15"/>
<rect class="c6" x="372.18" y="297.12" width="9.1" height="9.15"/>
<rect class="c6" x="383.84" y="297.12" width="9.1" height="9.15"/>
<rect class="c5" x="395.5" y="297.12" width="9.1" height="9.15"/>
<rect class="c5" x="407.17" y="297.12" width="9.1" height="9.15"/>
<rect class="c5" x="418.83" y="297.12" width="9.1" height="9.15"/>
<rect class="c3" x="57.22" y="307.75" width="9.1" height="9.15"/>
<rect class="c2" x="68.89" y="307.75" width="9.1" height="9.15"/>
<rect class="c3" x="80.55" y="307.75" width="9.1" height="9.15"/>
<rect class="c4" x="92.22" y="307.75" width="9.1" height="9.15"/>
<rect class="c5" x="103.88" y="307.75" width="9.1" height="9.15"/>
<rect class="c6" x="115.55" y="307.75" width="9.1" height="9.15"/>
<rect class="c7" x="127.21" y="307.75" width="9.1" height="9.15"/>
<rect class="c8" x="138.88" y="307.75" width="9.1" height="9.15"/>
<rect class="c8" x="150.54" y="307.75" width="9.1" height="9.15"/>
<rect class="c8" x="162.21" y="307.75" width="9.1" height="9.15"/>
<rect class="c8" x="173.87" y="307.75" width="9.1" height="9.15"/>
<rect class="c8" x="185.54" y="307.75" width="9.1" height="9.15"/>
<rect class="c8" x="197.2" y="307.75" width="9.1" height="9.15"/>
<rect class="c8" x="208.87" y="307.75" width="9.1" height="9.15"/>
<rect class="c8" x="220.53" y="307.75" width="9.1" height="9.15"/>
<rect class="c8" x="232.2" y="307.75" width="9.1" height="9.15"/>
<rect class="c8" x="243.86" y="307.75" width="9.1" height="9.15"/>
<rect class="c8" x="255.53" y="307.75" width="9.1" height="9.15"/>
<rect class="c8" x="267.19" y="307.75" width="9.1" height="9.15"/>
<rect class="c8" x="278.86" y="307.75" width="9.1" height="9.15"/>
<rect class="c8" x="290.52" y="307.75" width="9.1" height="9.15"/>
<rect class="c8" x="302.19" y="307.75" width="9.1" height="9.15"/>
<rect class="c8" x="313.85" y="307.75" width="9.1" height="9.15"/>
<rect class="c7" x="325.52" y="307.75" width="9.1" height="9.15"/>
<rect class="c7" x="337.18" y="307.75" width="9.1" height="9.15"/>
<rect class="c7" x="348.84" y="307.75" width="9.1" height="9.15"/>
<rect class="c7" x="360.51" y="307.75" width="9.1" height="9.15"/>
<rect class="c6" x="372.18" y="307.75" width="9.1" height="9.15"/>
<rect class="c5" x="383.84" y="307.75" width="9.1" height="9.15"/>
<rect class="c5" x="395.5" y="307.75" width="9.1" height="9.15"/>
<rect class="c4" x="407.17" y="307.75" width="9.1" height="9.15"/>
<rect class="c3" x="418.83" y="307.75" width="9.1" height="9.15"/>
<rect class="c2" x="57.22" y="318.38" width="9.1" height="9.15"/>
<rect class="c3" x="68.89" y="318.38" width="9.1" height="9.15"/>
<rect class="c4" x="80.55" y="318.38" width="9.1" height="9.15"/>
<rect class="c6" x="92.22" y="318.38" width="9.1" height="9.15"/>
<rect class="c7" x="103.88" y="318.38" width="9.1" height="9.15"/>
<rect class="c8" x="115.55" y="318.38" width="9.1" height="9.15"/>
<rect class="c8" x="127.21" y="318.38" width="9.1" height="9.15"/>
<rect class="c8" x="138.88" y="318.38" width="9.1" height="9.15"/>
<rect class="c8" x="150.54" y="318.38" width="9.1" height="9.15"/>
<rect class="c8" x="162.21" y="318.38" width="9.1" height="9.15"/>
<rect class="c8" x="173.87" y="318.38" width="9.1" height="9.15"/>
<rect class="c8" x="185.54" y="318.38" width="9.1" height="9.15"/>
<rect class="c8" x="197.2" y="318.38" width="9.1" height="9.15"/>
<rect class="c8" x="208.87" y="318.38" width="9.1" height="9.15"/>
<rect class="c8" x="220.53" y="318.38" width="9.1" height="9.15"/>
<rect class="c8" x="232.2" y="318.38" width="9.1" height="9.15"/>
<rect class="c8" x="243.86" y="318.38" width="9.1" height="9.15"/>
<rect class="c8" x="255.53" y="318.38" width="9.1" height="9.15"/>
<rect class="c8" x="267.19" y="318.38" width="9.1" height="9.15"/>
<rect class="c8" x="278.86" y="318.38" width="9.1" height="9.15"/>
<rect class="c8" x="290.52" y="318.38" width="9.1" height="9.15"/>
<rect class="c8" x="302.19" y="318.38" width="9.1" height="9.15"/>
<rect class="c7" x="313.85" y="318.38" width="9.1" height="9.15"/>
<rect class="c6" x="325.52" y="318.38" width="9.1" height="9.15"/>
<rect class="c6" x="337.18" y="318.38" width="9.1" height="9.15"/>
<rect class="c6" x="348.84" y="318.38" width="9.1" height="9.15"/>
<rect class="c6" x="360.51" y="318.38" width="9.1" height="9.15"/>
<rect class="c6" x="372.18" y="318.38" width="9.1" height="9.15"/>
<rect class="c5" x="383.84" y="318.38" width="9.1" height="9.15"/>
<rect class="c4" x="395.5" y="318.38" width="9.1" height="9.15"/>
<rect class="c3" x="407.17" y="318.38" width="9.1" height="9.15"/>
<rect class="c3" x="418.83" y="318.38" width="9.1" height="9.15"/>
<rect class="c3" x="57.22" y="329.01" width="9.1" height="9.15"/>
<rect class="c5" x="68.89" y="329.01" width="9.1" height="9.15"/>
<rect class="c6" x="80.55" y="329.01" width="9.1" height="9.15"/>
<rect class="c8" x="92.22" y="329.01" width="9.1" height="9.15"/>
<rect class="c8" x="103.88" y="329.01" width="9.1" height="9.15"/>
<rect class="c8" x="115.55" y="329.01" width="9.1" height="9.15"/>
<rect class="c8" x="127.21" y="329.01" width="9.1" height="9.15"/>
<rect class="c8" x="138.88" y="329.01" width="9.1" height="9.15"/>
<rect class="c8" x="150.54" y="329.01" width="9.1" height="9.15"/>
<rect class="c8" x="162.21" y="329.01" width="9.1" height="9.15"/>
<rect class="c8" x="173.87" y="329.01" width="9.1" height="9.15"/>
<rect class="c8" x="185.54" y="329.01" width="9.1" height="9.15"/>
<rect class="c8" x="197.2" y="329.01" width="9.1" height="9.15"/>
<rect class="c7" x="208.87" y="329.01" width="9.1" height="9.15"/>
<rect class="c7" x="220.53" y="329.01" width="9.1" height="9.15"/>
<rect class="c7" x="232.2" y="329.01" width="9.1" height="9.15"/>
<rect class="c7" x="243.86" y="329.01" width="9.1" height="9.15"/>
<rect class="c7" x="255.53" y="329.01" width="9.1" height="9.15"/>
<rect class="c7" x="267.19" y="329.01" width="9.1" height="9.15"/>
<rect class="c7" x="278.86" y="329.01" width="9.1" height="9.15"/>
<rect class="c7" x="290.52" y="329.01" width="9.1" height="9.15"/>
<rect class="c7" x="302.19" y="329.01" width="9.1" height="9.15"/>
<rect class="c6" x="313.85" y="329.01" width="9.1" height="9.15"/>
<rect class="c5" x="325.52" y="329.01" width="9.1" height="9.15"/>
<rect class="c4" x="337.18" y="329.01" width="9.1" height="9.15"/>
<rect class="c3" x="348.84" y="329.01" width="9.1" height="9.15"/>
<rect class="c2" x="360.51" y="329.01" width="9.1" height="9.15"/>
<rect class="c3" x="372.18" y="329.01" width="9.1" height="9.15"/>
<rect class="c3" x="383.84" y="329.01" width="9.1" height="9.15"/>
<rect class="c4" x="395.5" y="329.01" width="9.1" height="9.15"/>
<rect class="c3" x="407.17" y="329.01" width="9.1" height="9.15"/>
<rect class="c3" x="418.83" y="329.01" width="9.1" height="9.15"/>
<rect class="c5" x="57.22" y="339.64" width="9.1" height="9.15"/>
<rect class="c6" x="68.89" y="339.64" width="9.1" height="9.15"/>
<rect class="c7" x="80.55" y="339.64" width="9.1" height="9.15"/>
<rect class="c8" x="92.22" y="339.64" width="9.1" height="9.15"/>
<rect class="c8" x="103.88" y="339.64" width="9.1" height="9.15"/>
<rect class="c8" x="115.55" y="339.64" width="9.1" height="9.15"/>
<rect class="c8" x="127.21" y="339.64" width="9.1" height="9.15"/>
<rect class="c8" x="138.88" y="339.64" width="9.1" height="9.15"/>
<rect class="c8" x="150.54" y="339.64" width="9.1" height="9.15"/>
<rect class="c8" x="162.21" y="339.64" width="9.1" height="9.15"/>
<rect class="c7" x="173.87" y="339.64" width="9.1" height="9.15"/>
<rect class="c6" x="185.54" y="339.64" width="9.1" height="9.15"/>
<rect class="c5" x="197.2" y="339.64" width="9.1" height="9.15"/>
<rect class="c4" x="208.87" y="339.64" width="9.1" height="9.15"/>
<rect class="c3" x="220.53" y="339.64" width="9.1" height="9.15"/>
<rect class="c3" x="232.2" y="339.64" width="9.1" height="9.15"/>
<rect class="c5" x="243.86" y="339.64" width="9.1" height="9.15"/>
<rect class="c6" x="255.53" y="339.64" width="9.1" height="9.15"/>
<rect class="c7" x="267.19" y="339.64" width="9.1" height="9.15"/>
<rect class="c8" x="278.86" y="339.64" width="9.1" height="9.15"/>
<rect class="c8" x="290.52" y="339.64" width="9.1" height="9.15"/>
<rect class="c8" x="302.19" y="339.64" width="9.1" height="9.15"/>
<rect class="c7" x="313.85" y="339.64" width="9.1" height="9.15"/>
<rect class="c5" x="325.52" y="339.64" width="9.1" height="9.15"/>
<rect class="c3" x="337.18" y="339.64" width="9.1" height="9.15"/>
<rect class="c0" x="348.84" y="339.64" width="9.1" height="9.15"/>
<rect class="c0" x="360.51" y="339.64" width="9.1" height="9.15"/>
<rect class="c0" x="372.18" y="339.64" width="9.1" height="9.15"/>
<rect class="c1" x="383.84" y="339.64" width="9.1" height="9.15"/>
<rect class="c3" x="395.5" y="339.64" width="9.1" height="9.15"/>
<rect class="c4" x="407.17" y="339.64" width="9.1" height="9.15"/>
<rect class="c4" x="418.83" y="339.64" width="9.1" height="9.15"/>
<rect class="c6" x="57.22" y="350.27" width="9.1" height="9.15"/>
<rect class="c7" x="68.89" y="350.27" width="9.1" height="9.15"/>
<rect class="c7" x="80.55" y="350.27" width="9.1" height="9.15"/>
<rect class="c8" x="92.22" y="350.27" width="9.1" height="9.15"/>
<rect class="c8" x="103.88" y="350.27" width="9.1" height="9.15"/>
<rect class="c8" x="115.55" y="350.27" width="9.1" height="9.15"/>
<rect class="c7" x="127.21" y="350.27" width="9.1" height="9.15"/>
<rect class="c6" x="138.88" y="350.27" width="9.1" height="9.15"/>
<rect class="c5" x="150.54" y="350.27" width="9.1" height="9.15"/>
<rect class="c3" x="162.21" y="350.27" width="9.1" height="9.15"/>
<rect class="c0" x="173.87" y="350.27" width="9.1" height="9.15"/>
<rect class="c0" x="232.2" y="350.27" width="9.1" height="9.15"/>
<rect class="c1" x="243.86" y="350.27" width="9.1" height="9.15"/>
<rect class="c5" x="255.53" y="350.27" width="9.1" height="9.15"/>
<rect class="c6" x="267.19" y="350.27" width="9.1" height="9.15"/>
<rect class="c8" x="278.86" y="350.27" width="9.1" height="9.15"/>
<rect class="c8" x="290.52" y="350.27" width="9.1" height="9.15"/>
<rect class="c8" x="302.19" y="350.27" width="9.1" height="9.15"/>
<rect class="c7" x="313.85" y="350.27" width="9.1" height="9.15"/>
<rect class="c6" x="325.52" y="350.27" width="9.1" height="9.15"/>
<rect class="c4" x="337.18" y="350.27" width="9.1" height="9.15"/>
<rect class="c1" x="348.84" y="350.27" width="9.1" height="9.15"/>
<rect class="c0" x="360.51" y="350.27" width="9.1" height="9.15"/>
<rect class="c0" x="372.18" y="350.27" width="9.1" height="9.15"/>
<rect class="c0" x="383.84" y="350.27" width="9.1" height="9.15"/>
<rect class="c2" x="395.5" y="350.27" width="9.1" height="9.15"/>
<rect class="c4" x="407.17" y="350.27" width="9.1" height="9.15"/>
<rect class="c5" x="418.83" y="350.27" width="9.1" height="9.15"/>
<rect class="c7" x="57.22" y="360.9" width="9.1" height="9.15"/>
<rect class="c7" x="68.89" y="360.9" width="9.1" height="9.15"/>
<rect class="c7" x="80.55" y="360.9" width="9.1" height="9.15"/>
<rect class="c6" x="92.22" y="360.9" width="9.1" height="9.15"/>
<rect class="c5" x="103.88" y="360.9" width="9.1" height="9.15"/>
<rect class="c3" x="115.55" y="360.9" width="9.1" height="9.15"/>
<rect class="c0" x="127.21" y="360.9" width="9.1" height="9.15"/>
<rect class="c0" x="243.86" y="360.9" width="9.1" height="9.15"/>
<rect class="c2" x="255.53" y="360.9" width="9.1" height="9.15"/>
<rect class="c4" x="267.19" y="360.9" width="9.1" height="9.15"/>
<rect class="c4" x="278.86" y="360.9" width="9.1" height="9.15"/>
<rect class="c5" x="290.52" y="360.9" width="9.1" height="9.15"/>
<rect class="c4" x="302.19" y="360.9" width="9.1" height="9.15"/>
<rect class="c4" x="313.85" y="360.9" width="9.1" height="9.15"/>
<rect class="c3" x="325.52" y="360.9" width="9.1" height="9.15"/>
<rect class="c1" x="337.18" y="360.9" width="9.1" height="9.15"/>
<rect class="c0" x="348.84" y="360.9" width="9.1" height="9.15"/>
<rect class="c0" x="360.51" y="360.9" width="9.1" height="9.15"/>
<rect class="c0" x="372.18" y="360.9" width="9.1" height="9.15"/>
<rect class="c2" x="383.84" y="360.9" width="9.1" height="9.15"/>
<rect class="c4" x="395.5" y="360.9" width="9.1" height="9.15"/>
<rect class="c5" x="407.17" y="360.9" width="9.1" height="9.15"/>
<rect class="c6" x="418.83" y="360.9" width="9.1" height="9.15"/>
<line class="ax" x1="44.7" y1="20.6" x2="44.7" y2="382.85"/>
<line class="ax" x1="43.65" y1="381.8" x2="440.55" y2="381.8"/>
<line class="tk" x1="44.7" y1="376.1" x2="53.7" y2="376.1"/>
<line class="mt" x1="44.7" y1="365.47" x2="49.9" y2="365.47"/>
<line class="mt" x1="44.7" y1="354.84" x2="49.9" y2="354.84"/>
<line class="mt" x1="44.7" y1="344.21" x2="49.9" y2="344.21"/>
<line class="mt" x1="44.7" y1="333.58" x2="49.9" y2="333.58"/>
<line class="tk" x1="44.7" y1="322.95" x2="53.7" y2="322.95"/>
<line class="mt" x1="44.7" y1="312.32" x2="49.9" y2="312.32"/>
<line class="mt" x1="44.7" y1="301.69" x2="49.9" y2="301.69"/>
<line class="mt" x1="44.7" y1="291.06" x2="49.9" y2="291.06"/>
<line class="mt" x1="44.7" y1="280.43" x2="49.9" y2="280.43"/>
<line class="tk" x1="44.7" y1="269.8" x2="53.7" y2="269.8"/>
<line class="mt" x1="44.7" y1="259.17" x2="49.9" y2="259.17"/>
<line class="mt" x1="44.7" y1="248.54" x2="49.9" y2="248.54"/>
<line class="mt" x1="44.7" y1="237.91" x2="49.9" y2="237.91"/>
<line class="mt" x1="44.7" y1="227.28" x2="49.9" y2="227.28"/>
<line class="tk" x1="44.7" y1="216.65" x2="53.7" y2="216.65"/>
<line class="mt" x1="44.7" y1="206.02" x2="49.9" y2="206.02"/>
<line class="mt" x1="44.7" y1="195.39" x2="49.9" y2="195.39"/>
<line class="mt" x1="44.7" y1="184.76" x2="49.9" y2="184.76"/>
<line class="mt" x1="44.7" y1="174.13" x2="49.9" y2="174.13"/>
<line class="tk" x1="44.7" y1="163.5" x2="53.7" y2="163.5"/>
<line class="mt" x1="44.7" y1="152.87" x2="49.9" y2="152.87"/>
<line class="mt" x1="44.7" y1="142.24" x2="49.9" y2="142.24"/>
<line class="mt" x1="44.7" y1="131.61" x2="49.9" y2="131.61"/>
<line class="mt" x1="44.7" y1="120.98" x2="49.9" y2="120.98"/>
<line class="tk" x1="44.7" y1="110.35" x2="53.7" y2="110.35"/>
<line class="mt" x1="44.7" y1="99.72" x2="49.9" y2="99.72"/>
<line class="mt" x1="44.7" y1="89.09" x2="49.9" y2="89.09"/>
<line class="mt" x1="44.7" y1="78.46" x2="49.9" y2="78.46"/>
<line class="mt" x1="44.7" y1="67.83" x2="49.9" y2="67.83"/>
<line class="tk" x1="44.7" y1="57.2" x2="53.7" y2="57.2"/>
<line class="mt" x1="44.7" y1="46.57" x2="49.9" y2="46.57"/>
<line class="mt" x1="44.7" y1="35.94" x2="49.9" y2="35.94"/>
<line class="mt" x1="44.7" y1="25.31" x2="49.9" y2="25.31"/>
<line class="tk" x1="435.05" y1="381.8" x2="435.05" y2="372.8"/>
<line class="mt" x1="411.72" y1="381.8" x2="411.72" y2="376.8"/>
<line class="mt" x1="388.39" y1="381.8" x2="388.39" y2="376.8"/>
<line class="mt" x1="365.06" y1="381.8" x2="365.06" y2="376.8"/>
<line class="mt" x1="341.73" y1="381.8" x2="341.73" y2="376.8"/>
<line class="tk" x1="318.4" y1="381.8" x2="318.4" y2="372.8"/>
<line class="mt" x1="295.07" y1="381.8" x2="295.07" y2="376.8"/>
<line class="mt" x1="271.74" y1="381.8" x2="271.74" y2="376.8"/>
<line class="mt" x1="248.41" y1="381.8" x2="248.41" y2="376.8"/>
<line class="mt" x1="225.08" y1="381.8" x2="225.08" y2="376.8"/>
<line class="tk" x1="201.75" y1="381.8" x2="201.75" y2="372.8"/>
<line class="mt" x1="178.42" y1="381.8" x2="178.42" y2="376.8"/>
<line class="mt" x1="155.09" y1="381.8" x2="155.09" y2="376.8"/>
<line class="mt" x1="131.76" y1="381.8" x2="131.76" y2="376.8"/>
<line class="mt" x1="108.43" y1="381.8" x2="108.43" y2="376.8"/>
<line class="tk" x1="85.1" y1="381.8" x2="85.1" y2="372.8"/>
<line class="mt" x1="61.77" y1="381.8" x2="61.77" y2="376.8"/>
<text class="tl" transform="translate(38.6 382.4) scale(1.06 1)" text-anchor="end">0</text>
<text class="tl" transform="translate(38.6 329.25) scale(1.06 1)" text-anchor="end">5</text>
<text class="tl" transform="translate(38.6 276.1) scale(1.06 1)" text-anchor="end">10</text>
<text class="tl" transform="translate(38.6 222.95) scale(1.06 1)" text-anchor="end">15</text>
<text class="tl" transform="translate(38.6 169.8) scale(1.06 1)" text-anchor="end">20</text>
<text class="tl" transform="translate(38.6 116.65) scale(1.06 1)" text-anchor="end">25</text>
<text class="tl" transform="translate(38.6 63.5) scale(1.06 1)" text-anchor="end">30</text>
<text class="tl" transform="translate(435.05 398.8) scale(1.04 1)" text-anchor="middle">0</text>
<text class="tl" transform="translate(318.4 398.8) scale(1.04 1)" text-anchor="middle">10</text>
<text class="tl" transform="translate(201.75 398.8) scale(1.04 1)" text-anchor="middle">20</text>
<text class="tl" transform="translate(85.1 398.8) scale(1.04 1)" text-anchor="middle">30</text>
<text class="al" transform="translate(243.2 412.1) scale(1.04 1)" text-anchor="middle">IY</text>
<text class="al" transform="translate(12 200.6) rotate(-90)" text-anchor="middle">IX</text>
<text class="tt" transform="translate(246.5 17.6) scale(0.965 1)" text-anchor="middle">TRANSMISSION LOSS MAP [dB]</text>
<rect x="434.1" y="46.6" width="17.6" height="14.4" fill="#ff0400"/>
<rect x="434.1" y="60.6" width="17.6" height="9.78" fill="#ff2000"/>
<rect x="434.1" y="69.98" width="17.6" height="9.78" fill="#ff4000"/>
<rect x="434.1" y="79.36" width="17.6" height="9.78" fill="#ff6000"/>
<rect x="434.1" y="88.74" width="17.6" height="9.78" fill="#ff7c00"/>
<rect x="434.1" y="98.12" width="17.6" height="9.78" fill="#ffa000"/>
<rect x="434.1" y="107.5" width="17.6" height="9.78" fill="#ffc800"/>
<rect x="434.1" y="116.88" width="17.6" height="9.78" fill="#f8f400"/>
<rect x="434.1" y="126.26" width="17.6" height="9.78" fill="#d8f800"/>
<rect x="434.1" y="135.64" width="17.6" height="9.78" fill="#b8fc00"/>
<rect x="434.1" y="145.02" width="17.6" height="9.78" fill="#98fc00"/>
<rect x="434.1" y="154.4" width="17.6" height="9.78" fill="#80fc00"/>
<rect x="434.1" y="163.78" width="17.6" height="9.78" fill="#70fc00"/>
<rect x="434.1" y="173.16" width="17.6" height="9.78" fill="#60fc00"/>
<rect x="434.1" y="182.54" width="17.6" height="9.78" fill="#58fc00"/>
<rect x="434.1" y="191.92" width="17.6" height="9.78" fill="#58fc00"/>
<rect x="434.1" y="201.3" width="17.6" height="9.78" fill="#58fc00"/>
<rect x="434.1" y="210.68" width="17.6" height="9.78" fill="#58fc00"/>
<rect x="434.1" y="220.06" width="17.6" height="9.78" fill="#58fc00"/>
<rect x="434.1" y="229.44" width="17.6" height="9.78" fill="#58fc20"/>
<rect x="434.1" y="238.82" width="17.6" height="9.78" fill="#60fc40"/>
<rect x="434.1" y="248.2" width="17.6" height="9.78" fill="#60fc60"/>
<rect x="434.1" y="257.58" width="17.6" height="9.78" fill="#68fc80"/>
<rect x="434.1" y="266.96" width="17.6" height="9.78" fill="#70fca0"/>
<rect x="434.1" y="276.34" width="17.6" height="9.78" fill="#70fcc0"/>
<rect x="434.1" y="285.72" width="17.6" height="9.78" fill="#70fce0"/>
<rect x="434.1" y="295.1" width="17.6" height="9.78" fill="#60ecfc"/>
<rect x="434.1" y="304.48" width="17.6" height="9.78" fill="#48a8f8"/>
<rect x="434.1" y="313.86" width="17.6" height="9.78" fill="#3a7af8"/>
<rect x="434.1" y="323.24" width="17.6" height="9.78" fill="#3060f8"/>
<rect x="434.1" y="332.62" width="17.6" height="9.78" fill="#2848f8"/>
<rect x="434.1" y="342" width="17.6" height="14.2" fill="#2040fa"/>
<text class="cl" x="456.5" y="57.1">-24</text>
<text class="cl" x="456.5" y="94.64">-26</text>
<text class="cl" x="456.5" y="132.18">-28</text>
<text class="cl" x="456.5" y="169.72">-30</text>
<text class="cl" x="456.5" y="207.26">-32</text>
<text class="cl" x="456.5" y="244.8">-34</text>
<text class="cl" x="456.5" y="282.34">-36</text>
<text class="cl" x="456.5" y="319.88">-38</text>
<text class="cl" x="456.5" y="357.42">-40</text>
<rect class="c5" x="593.42" y="31.36" width="9.1" height="9.15"/>
<rect class="c6" x="628.42" y="31.36" width="9.1" height="9.15"/>
<rect class="c7" x="640.08" y="31.36" width="9.1" height="9.15"/>
<rect class="c2" x="698.41" y="31.36" width="9.1" height="9.15"/>
<rect class="c7" x="710.07" y="31.36" width="9.1" height="9.15"/>
<rect class="c7" x="721.74" y="31.36" width="9.1" height="9.15"/>
<rect class="c6" x="733.4" y="31.36" width="9.1" height="9.15"/>
<rect class="c5" x="745.07" y="31.36" width="9.1" height="9.15"/>
<rect class="c3" x="756.73" y="31.36" width="9.1" height="9.15"/>
<rect class="c1" x="838.38" y="31.36" width="9.1" height="9.15"/>
<rect class="c1" x="850.05" y="31.36" width="9.1" height="9.15"/>
<rect class="c1" x="873.38" y="31.36" width="9.1" height="9.15"/>
<rect class="c7" x="885.05" y="31.36" width="9.1" height="9.15"/>
<rect class="c1" x="896.71" y="31.36" width="9.1" height="9.15"/>
<rect class="c2" x="908.38" y="31.36" width="9.1" height="9.15"/>
<rect class="c6" x="920.04" y="31.36" width="9.1" height="9.15"/>
<rect class="c6" x="931.71" y="31.36" width="9.1" height="9.15"/>
<rect class="c7" x="943.37" y="31.36" width="9.1" height="9.15"/>
<rect class="c8" x="955.04" y="31.36" width="9.1" height="9.15"/>
<rect class="c6" x="593.42" y="41.99" width="9.1" height="9.15"/>
<rect class="c1" x="605.09" y="41.99" width="9.1" height="9.15"/>
<rect class="c4" x="628.42" y="41.99" width="9.1" height="9.15"/>
<rect class="c4" x="640.08" y="41.99" width="9.1" height="9.15"/>
<rect class="c4" x="850.05" y="41.99" width="9.1" height="9.15"/>
<rect class="c0" x="861.72" y="41.99" width="9.1" height="9.15"/>
<rect class="c4" x="885.05" y="41.99" width="9.1" height="9.15"/>
<rect class="c0" x="896.71" y="41.99" width="9.1" height="9.15"/>
<rect class="c1" x="920.04" y="41.99" width="9.1" height="9.15"/>
<rect class="c2" x="931.71" y="41.99" width="9.1" height="9.15"/>
<rect class="c3" x="943.37" y="41.99" width="9.1" height="9.15"/>
<rect class="c6" x="955.04" y="41.99" width="9.1" height="9.15"/>
<rect class="c0" x="593.42" y="52.62" width="9.1" height="9.15"/>
<rect class="c0" x="733.4" y="52.62" width="9.1" height="9.15"/>
<rect class="c0" x="745.07" y="52.62" width="9.1" height="9.15"/>
<rect class="c0" x="803.39" y="52.62" width="9.1" height="9.15"/>
<rect class="c4" x="815.06" y="52.62" width="9.1" height="9.15"/>
<rect class="c0" x="826.72" y="52.62" width="9.1" height="9.15"/>
<rect class="c1" x="850.05" y="52.62" width="9.1" height="9.15"/>
<rect class="c1" x="861.72" y="52.62" width="9.1" height="9.15"/>
<rect class="c1" x="896.71" y="52.62" width="9.1" height="9.15"/>
<rect class="c3" x="593.42" y="63.25" width="9.1" height="9.15"/>
<rect class="c2" x="815.06" y="63.25" width="9.1" height="9.15"/>
<rect class="c0" x="826.72" y="63.25" width="9.1" height="9.15"/>
<rect class="c0" x="861.72" y="63.25" width="9.1" height="9.15"/>
<rect class="c1" x="896.71" y="63.25" width="9.1" height="9.15"/>
<rect class="c0" x="908.38" y="63.25" width="9.1" height="9.15"/>
<rect class="c0" x="943.37" y="63.25" width="9.1" height="9.15"/>
<rect class="c5" x="955.04" y="63.25" width="9.1" height="9.15"/>
<rect class="c5" x="593.42" y="73.88" width="9.1" height="9.15"/>
<rect class="c1" x="628.42" y="73.88" width="9.1" height="9.15"/>
<rect class="c0" x="663.41" y="73.88" width="9.1" height="9.15"/>
<rect class="c3" x="768.4" y="73.88" width="9.1" height="9.15"/>
<rect class="c4" x="780.06" y="73.88" width="9.1" height="9.15"/>
<rect class="c2" x="850.05" y="73.88" width="9.1" height="9.15"/>
<rect class="c1" x="861.72" y="73.88" width="9.1" height="9.15"/>
<rect class="c1" x="873.38" y="73.88" width="9.1" height="9.15"/>
<rect class="c5" x="885.05" y="73.88" width="9.1" height="9.15"/>
<rect class="c3" x="896.71" y="73.88" width="9.1" height="9.15"/>
<rect class="c5" x="955.04" y="73.88" width="9.1" height="9.15"/>
<rect class="c7" x="593.42" y="84.51" width="9.1" height="9.15"/>
<rect class="c3" x="605.09" y="84.51" width="9.1" height="9.15"/>
<rect class="c0" x="616.75" y="84.51" width="9.1" height="9.15"/>
<rect class="c3" x="628.42" y="84.51" width="9.1" height="9.15"/>
<rect class="c1" x="663.41" y="84.51" width="9.1" height="9.15"/>
<rect class="c0" x="675.08" y="84.51" width="9.1" height="9.15"/>
<rect class="c0" x="686.74" y="84.51" width="9.1" height="9.15"/>
<rect class="c2" x="698.41" y="84.51" width="9.1" height="9.15"/>
<rect class="c4" x="733.4" y="84.51" width="9.1" height="9.15"/>
<rect class="c1" x="745.07" y="84.51" width="9.1" height="9.15"/>
<rect class="c3" x="768.4" y="84.51" width="9.1" height="9.15"/>
<rect class="c6" x="780.06" y="84.51" width="9.1" height="9.15"/>
<rect class="c4" x="791.73" y="84.51" width="9.1" height="9.15"/>
<rect class="c5" x="803.39" y="84.51" width="9.1" height="9.15"/>
<rect class="c3" x="815.06" y="84.51" width="9.1" height="9.15"/>
<rect class="c6" x="838.38" y="84.51" width="9.1" height="9.15"/>
<rect class="c8" x="850.05" y="84.51" width="9.1" height="9.15"/>
<rect class="c8" x="861.72" y="84.51" width="9.1" height="9.15"/>
<rect class="c8" x="873.38" y="84.51" width="9.1" height="9.15"/>
<rect class="c8" x="885.05" y="84.51" width="9.1" height="9.15"/>
<rect class="c8" x="896.71" y="84.51" width="9.1" height="9.15"/>
<rect class="c8" x="908.38" y="84.51" width="9.1" height="9.15"/>
<rect class="c2" x="955.04" y="84.51" width="9.1" height="9.15"/>
<rect class="c7" x="593.42" y="95.15" width="9.1" height="9.15"/>
<rect class="c5" x="605.09" y="95.15" width="9.1" height="9.15"/>
<rect class="c1" x="628.42" y="95.15" width="9.1" height="9.15"/>
<rect class="c3" x="663.41" y="95.15" width="9.1" height="9.15"/>
<rect class="c2" x="675.08" y="95.15" width="9.1" height="9.15"/>
<rect class="c1" x="686.74" y="95.15" width="9.1" height="9.15"/>
<rect class="c5" x="698.41" y="95.15" width="9.1" height="9.15"/>
<rect class="c0" x="710.07" y="95.15" width="9.1" height="9.15"/>
<rect class="c2" x="733.4" y="95.15" width="9.1" height="9.15"/>
<rect class="c2" x="745.07" y="95.15" width="9.1" height="9.15"/>
<rect class="c0" x="780.06" y="95.15" width="9.1" height="9.15"/>
<rect class="c3" x="791.73" y="95.15" width="9.1" height="9.15"/>
<rect class="c8" x="803.39" y="95.15" width="9.1" height="9.15"/>
<rect class="c8" x="815.06" y="95.15" width="9.1" height="9.15"/>
<rect class="c1" x="838.38" y="95.15" width="9.1" height="9.15"/>
<rect class="c8" x="850.05" y="95.15" width="9.1" height="9.15"/>
<rect class="c9" x="861.72" y="95.15" width="9.1" height="9.15"/>
<rect class="c8" x="873.38" y="95.15" width="9.1" height="9.15"/>
<rect class="c9" x="885.05" y="95.15" width="9.1" height="9.15"/>
<rect class="c9" x="896.71" y="95.15" width="9.1" height="9.15"/>
<rect class="c8" x="908.38" y="95.15" width="9.1" height="9.15"/>
<rect class="c4" x="920.04" y="95.15" width="9.1" height="9.15"/>
<rect class="c1" x="955.04" y="95.15" width="9.1" height="9.15"/>
<rect class="c1" x="593.42" y="105.78" width="9.1" height="9.15"/>
<rect class="c0" x="605.09" y="105.78" width="9.1" height="9.15"/>
<rect class="c0" x="628.42" y="105.78" width="9.1" height="9.15"/>
<rect class="c4" x="663.41" y="105.78" width="9.1" height="9.15"/>
<rect class="c1" x="675.08" y="105.78" width="9.1" height="9.15"/>
<rect class="c1" x="815.06" y="105.78" width="9.1" height="9.15"/>
<rect class="c1" x="826.72" y="105.78" width="9.1" height="9.15"/>
<rect class="c3" x="850.05" y="105.78" width="9.1" height="9.15"/>
<rect class="c8" x="861.72" y="105.78" width="9.1" height="9.15"/>
<rect class="c8" x="873.38" y="105.78" width="9.1" height="9.15"/>
<rect class="c8" x="885.05" y="105.78" width="9.1" height="9.15"/>
<rect class="c3" x="896.71" y="105.78" width="9.1" height="9.15"/>
<rect class="c1" x="908.38" y="105.78" width="9.1" height="9.15"/>
<rect class="c0" x="628.42" y="116.41" width="9.1" height="9.15"/>
<rect class="c1" x="663.41" y="116.41" width="9.1" height="9.15"/>
<rect class="c0" x="721.74" y="116.41" width="9.1" height="9.15"/>
<rect class="c4" x="733.4" y="116.41" width="9.1" height="9.15"/>
<rect class="c1" x="780.06" y="116.41" width="9.1" height="9.15"/>
<rect class="c7" x="791.73" y="116.41" width="9.1" height="9.15"/>
<rect class="c7" x="803.39" y="116.41" width="9.1" height="9.15"/>
<rect class="c1" x="815.06" y="116.41" width="9.1" height="9.15"/>
<rect class="c3" x="838.38" y="116.41" width="9.1" height="9.15"/>
<rect class="c4" x="850.05" y="116.41" width="9.1" height="9.15"/>
<rect class="c0" x="861.72" y="116.41" width="9.1" height="9.15"/>
<rect class="c1" x="873.38" y="116.41" width="9.1" height="9.15"/>
<rect class="c0" x="885.05" y="116.41" width="9.1" height="9.15"/>
<rect class="c1" x="943.37" y="116.41" width="9.1" height="9.15"/>
<rect class="c0" x="955.04" y="116.41" width="9.1" height="9.15"/>
<rect class="c0" x="593.42" y="127.04" width="9.1" height="9.15"/>
<rect class="c1" x="663.41" y="127.04" width="9.1" height="9.15"/>
<rect class="c3" x="721.74" y="127.04" width="9.1" height="9.15"/>
<rect class="c5" x="733.4" y="127.04" width="9.1" height="9.15"/>
<rect class="c0" x="745.07" y="127.04" width="9.1" height="9.15"/>
<rect class="c1" x="780.06" y="127.04" width="9.1" height="9.15"/>
<rect class="c8" x="791.73" y="127.04" width="9.1" height="9.15"/>
<rect class="c9" x="803.39" y="127.04" width="9.1" height="9.15"/>
<rect class="c8" x="815.06" y="127.04" width="9.1" height="9.15"/>
<rect class="c0" x="826.72" y="127.04" width="9.1" height="9.15"/>
<rect class="c1" x="838.38" y="127.04" width="9.1" height="9.15"/>
<rect class="c7" x="850.05" y="127.04" width="9.1" height="9.15"/>
<rect class="c3" x="861.72" y="127.04" width="9.1" height="9.15"/>
<rect class="c4" x="885.05" y="127.04" width="9.1" height="9.15"/>
<rect class="c7" x="896.71" y="127.04" width="9.1" height="9.15"/>
<rect class="c5" x="908.38" y="127.04" width="9.1" height="9.15"/>
<rect class="c6" x="943.37" y="127.04" width="9.1" height="9.15"/>
<rect class="c7" x="955.04" y="127.04" width="9.1" height="9.15"/>
<rect class="c1" x="593.42" y="137.67" width="9.1" height="9.15"/>
<rect class="c0" x="651.75" y="137.67" width="9.1" height="9.15"/>
<rect class="c2" x="663.41" y="137.67" width="9.1" height="9.15"/>
<rect class="c5" x="768.4" y="137.67" width="9.1" height="9.15"/>
<rect class="c8" x="780.06" y="137.67" width="9.1" height="9.15"/>
<rect class="c8" x="791.73" y="137.67" width="9.1" height="9.15"/>
<rect class="c8" x="803.39" y="137.67" width="9.1" height="9.15"/>
<rect class="c8" x="815.06" y="137.67" width="9.1" height="9.15"/>
<rect class="c3" x="826.72" y="137.67" width="9.1" height="9.15"/>
<rect class="c6" x="850.05" y="137.67" width="9.1" height="9.15"/>
<rect class="c4" x="861.72" y="137.67" width="9.1" height="9.15"/>
<rect class="c1" x="885.05" y="137.67" width="9.1" height="9.15"/>
<rect class="c5" x="896.71" y="137.67" width="9.1" height="9.15"/>
<rect class="c3" x="908.38" y="137.67" width="9.1" height="9.15"/>
<rect class="c0" x="920.04" y="137.67" width="9.1" height="9.15"/>
<rect class="c0" x="931.71" y="137.67" width="9.1" height="9.15"/>
<rect class="c7" x="943.37" y="137.67" width="9.1" height="9.15"/>
<rect class="c7" x="955.04" y="137.67" width="9.1" height="9.15"/>
<rect class="c3" x="768.4" y="148.3" width="9.1" height="9.15"/>
<rect class="c7" x="780.06" y="148.3" width="9.1" height="9.15"/>
<rect class="c7" x="791.73" y="148.3" width="9.1" height="9.15"/>
<rect class="c3" x="803.39" y="148.3" width="9.1" height="9.15"/>
<rect class="c5" x="815.06" y="148.3" width="9.1" height="9.15"/>
<rect class="c4" x="826.72" y="148.3" width="9.1" height="9.15"/>
<rect class="c0" x="838.38" y="148.3" width="9.1" height="9.15"/>
<rect class="c3" x="850.05" y="148.3" width="9.1" height="9.15"/>
<rect class="c3" x="861.72" y="148.3" width="9.1" height="9.15"/>
<rect class="c1" x="943.37" y="148.3" width="9.1" height="9.15"/>
<rect class="c1" x="955.04" y="148.3" width="9.1" height="9.15"/>
<rect class="c0" x="803.39" y="158.93" width="9.1" height="9.15"/>
<rect class="c7" x="815.06" y="158.93" width="9.1" height="9.15"/>
<rect class="c6" x="826.72" y="158.93" width="9.1" height="9.15"/>
<rect class="c2" x="861.72" y="158.93" width="9.1" height="9.15"/>
<rect class="c1" x="873.38" y="158.93" width="9.1" height="9.15"/>
<rect class="c1" x="885.05" y="158.93" width="9.1" height="9.15"/>
<rect class="c2" x="803.39" y="169.56" width="9.1" height="9.15"/>
<rect class="c4" x="815.06" y="169.56" width="9.1" height="9.15"/>
<rect class="c4" x="873.38" y="169.56" width="9.1" height="9.15"/>
<rect class="c4" x="885.05" y="169.56" width="9.1" height="9.15"/>
<rect class="c0" x="838.38" y="180.19" width="9.1" height="9.15"/>
<rect class="c2" x="873.38" y="180.19" width="9.1" height="9.15"/>
<rect class="c0" x="885.05" y="180.19" width="9.1" height="9.15"/>
<rect class="c1" x="826.72" y="190.82" width="9.1" height="9.15"/>
<rect class="c3" x="838.38" y="190.82" width="9.1" height="9.15"/>
<rect class="c0" x="850.05" y="190.82" width="9.1" height="9.15"/>
<rect class="c0" x="861.72" y="190.82" width="9.1" height="9.15"/>
<rect class="c0" x="908.38" y="190.82" width="9.1" height="9.15"/>
<rect class="c1" x="616.75" y="201.45" width="9.1" height="9.15"/>
<rect class="c4" x="628.42" y="201.45" width="9.1" height="9.15"/>
<rect class="c4" x="721.74" y="201.45" width="9.1" height="9.15"/>
<rect class="c6" x="733.4" y="201.45" width="9.1" height="9.15"/>
<rect class="c6" x="745.07" y="201.45" width="9.1" height="9.15"/>
<rect class="c0" x="756.73" y="201.45" width="9.1" height="9.15"/>
<rect class="c1" x="826.72" y="201.45" width="9.1" height="9.15"/>
<rect class="c3" x="838.38" y="201.45" width="9.1" height="9.15"/>
<rect class="c2" x="850.05" y="201.45" width="9.1" height="9.15"/>
<rect class="c0" x="861.72" y="201.45" width="9.1" height="9.15"/>
<rect class="c3" x="931.71" y="201.45" width="9.1" height="9.15"/>
<rect class="c0" x="943.37" y="201.45" width="9.1" height="9.15"/>
<rect class="c0" x="955.04" y="201.45" width="9.1" height="9.15"/>
<rect class="c5" x="593.42" y="212.08" width="9.1" height="9.15"/>
<rect class="c6" x="616.75" y="212.08" width="9.1" height="9.15"/>
<rect class="c8" x="628.42" y="212.08" width="9.1" height="9.15"/>
<rect class="c0" x="640.08" y="212.08" width="9.1" height="9.15"/>
<rect class="c0" x="686.74" y="212.08" width="9.1" height="9.15"/>
<rect class="c8" x="721.74" y="212.08" width="9.1" height="9.15"/>
<rect class="c8" x="733.4" y="212.08" width="9.1" height="9.15"/>
<rect class="c8" x="745.07" y="212.08" width="9.1" height="9.15"/>
<rect class="c1" x="756.73" y="212.08" width="9.1" height="9.15"/>
<rect class="c1" x="768.4" y="212.08" width="9.1" height="9.15"/>
<rect class="c6" x="780.06" y="212.08" width="9.1" height="9.15"/>
<rect class="c1" x="791.73" y="212.08" width="9.1" height="9.15"/>
<rect class="c0" x="815.06" y="212.08" width="9.1" height="9.15"/>
<rect class="c4" x="826.72" y="212.08" width="9.1" height="9.15"/>
<rect class="c3" x="838.38" y="212.08" width="9.1" height="9.15"/>
<rect class="c2" x="920.04" y="212.08" width="9.1" height="9.15"/>
<rect class="c5" x="931.71" y="212.08" width="9.1" height="9.15"/>
<rect class="c4" x="955.04" y="212.08" width="9.1" height="9.15"/>
<rect class="c7" x="593.42" y="222.71" width="9.1" height="9.15"/>
<rect class="c5" x="616.75" y="222.71" width="9.1" height="9.15"/>
<rect class="c8" x="628.42" y="222.71" width="9.1" height="9.15"/>
<rect class="c0" x="640.08" y="222.71" width="9.1" height="9.15"/>
<rect class="c2" x="686.74" y="222.71" width="9.1" height="9.15"/>
<rect class="c0" x="698.41" y="222.71" width="9.1" height="9.15"/>
<rect class="c8" x="721.74" y="222.71" width="9.1" height="9.15"/>
<rect class="c8" x="733.4" y="222.71" width="9.1" height="9.15"/>
<rect class="c6" x="745.07" y="222.71" width="9.1" height="9.15"/>
<rect class="c7" x="768.4" y="222.71" width="9.1" height="9.15"/>
<rect class="c8" x="780.06" y="222.71" width="9.1" height="9.15"/>
<rect class="c2" x="803.39" y="222.71" width="9.1" height="9.15"/>
<rect class="c8" x="815.06" y="222.71" width="9.1" height="9.15"/>
<rect class="c8" x="826.72" y="222.71" width="9.1" height="9.15"/>
<rect class="c7" x="838.38" y="222.71" width="9.1" height="9.15"/>
<rect class="c3" x="920.04" y="222.71" width="9.1" height="9.15"/>
<rect class="c2" x="931.71" y="222.71" width="9.1" height="9.15"/>
<rect class="c6" x="955.04" y="222.71" width="9.1" height="9.15"/>
<rect class="c7" x="593.42" y="233.34" width="9.1" height="9.15"/>
<rect class="c2" x="616.75" y="233.34" width="9.1" height="9.15"/>
<rect class="c7" x="628.42" y="233.34" width="9.1" height="9.15"/>
<rect class="c0" x="640.08" y="233.34" width="9.1" height="9.15"/>
<rect class="c3" x="686.74" y="233.34" width="9.1" height="9.15"/>
<rect class="c3" x="698.41" y="233.34" width="9.1" height="9.15"/>
<rect class="c8" x="721.74" y="233.34" width="9.1" height="9.15"/>
<rect class="c8" x="733.4" y="233.34" width="9.1" height="9.15"/>
<rect class="c8" x="745.07" y="233.34" width="9.1" height="9.15"/>
<rect class="c8" x="768.4" y="233.34" width="9.1" height="9.15"/>
<rect class="c8" x="780.06" y="233.34" width="9.1" height="9.15"/>
<rect class="c6" x="791.73" y="233.34" width="9.1" height="9.15"/>
<rect class="c8" x="803.39" y="233.34" width="9.1" height="9.15"/>
<rect class="c9" x="815.06" y="233.34" width="9.1" height="9.15"/>
<rect class="c8" x="826.72" y="233.34" width="9.1" height="9.15"/>
<rect class="c7" x="838.38" y="233.34" width="9.1" height="9.15"/>
<rect class="c4" x="861.72" y="233.34" width="9.1" height="9.15"/>
<rect class="c3" x="873.38" y="233.34" width="9.1" height="9.15"/>
<rect class="c1" x="931.71" y="233.34" width="9.1" height="9.15"/>
<rect class="c2" x="943.37" y="233.34" width="9.1" height="9.15"/>
<rect class="c6" x="955.04" y="233.34" width="9.1" height="9.15"/>
<rect class="c5" x="593.42" y="243.97" width="9.1" height="9.15"/>
<rect class="c3" x="628.42" y="243.97" width="9.1" height="9.15"/>
<rect class="c0" x="663.41" y="243.97" width="9.1" height="9.15"/>
<rect class="c8" x="721.74" y="243.97" width="9.1" height="9.15"/>
<rect class="c9" x="733.4" y="243.97" width="9.1" height="9.15"/>
<rect class="c8" x="745.07" y="243.97" width="9.1" height="9.15"/>
<rect class="c6" x="756.73" y="243.97" width="9.1" height="9.15"/>
<rect class="c7" x="768.4" y="243.97" width="9.1" height="9.15"/>
<rect class="c7" x="780.06" y="243.97" width="9.1" height="9.15"/>
<rect class="c5" x="791.73" y="243.97" width="9.1" height="9.15"/>
<rect class="c6" x="803.39" y="243.97" width="9.1" height="9.15"/>
<rect class="c8" x="815.06" y="243.97" width="9.1" height="9.15"/>
<rect class="c6" x="826.72" y="243.97" width="9.1" height="9.15"/>
<rect class="c0" x="838.38" y="243.97" width="9.1" height="9.15"/>
<rect class="c0" x="850.05" y="243.97" width="9.1" height="9.15"/>
<rect class="c7" x="861.72" y="243.97" width="9.1" height="9.15"/>
<rect class="c6" x="873.38" y="243.97" width="9.1" height="9.15"/>
<rect class="c0" x="885.05" y="243.97" width="9.1" height="9.15"/>
<rect class="c7" x="896.71" y="243.97" width="9.1" height="9.15"/>
<rect class="c7" x="908.38" y="243.97" width="9.1" height="9.15"/>
<rect class="c0" x="931.71" y="243.97" width="9.1" height="9.15"/>
<rect class="c5" x="943.37" y="243.97" width="9.1" height="9.15"/>
<rect class="c5" x="955.04" y="243.97" width="9.1" height="9.15"/>
<rect class="c0" x="628.42" y="254.6" width="9.1" height="9.15"/>
<rect class="c7" x="721.74" y="254.6" width="9.1" height="9.15"/>
<rect class="c8" x="733.4" y="254.6" width="9.1" height="9.15"/>
<rect class="c6" x="745.07" y="254.6" width="9.1" height="9.15"/>
<rect class="c7" x="861.72" y="254.6" width="9.1" height="9.15"/>
<rect class="c7" x="873.38" y="254.6" width="9.1" height="9.15"/>
<rect class="c5" x="885.05" y="254.6" width="9.1" height="9.15"/>
<rect class="c7" x="896.71" y="254.6" width="9.1" height="9.15"/>
<rect class="c7" x="908.38" y="254.6" width="9.1" height="9.15"/>
<rect class="c1" x="745.07" y="265.23" width="9.1" height="9.15"/>
<rect class="c0" x="756.73" y="265.23" width="9.1" height="9.15"/>
<rect class="c1" x="803.39" y="265.23" width="9.1" height="9.15"/>
<rect class="c7" x="815.06" y="265.23" width="9.1" height="9.15"/>
<rect class="c2" x="826.72" y="265.23" width="9.1" height="9.15"/>
<rect class="c0" x="861.72" y="265.23" width="9.1" height="9.15"/>
<rect class="c4" x="873.38" y="265.23" width="9.1" height="9.15"/>
<rect class="c7" x="885.05" y="265.23" width="9.1" height="9.15"/>
<rect class="c6" x="896.71" y="265.23" width="9.1" height="9.15"/>
<rect class="c1" x="908.38" y="265.23" width="9.1" height="9.15"/>
<rect class="c1" x="943.37" y="265.23" width="9.1" height="9.15"/>
<rect class="c0" x="593.42" y="275.86" width="9.1" height="9.15"/>
<rect class="c1" x="651.75" y="275.86" width="9.1" height="9.15"/>
<rect class="c2" x="663.41" y="275.86" width="9.1" height="9.15"/>
<rect class="c2" x="733.4" y="275.86" width="9.1" height="9.15"/>
<rect class="c8" x="745.07" y="275.86" width="9.1" height="9.15"/>
<rect class="c8" x="756.73" y="275.86" width="9.1" height="9.15"/>
<rect class="c5" x="768.4" y="275.86" width="9.1" height="9.15"/>
<rect class="c3" x="803.39" y="275.86" width="9.1" height="9.15"/>
<rect class="c8" x="815.06" y="275.86" width="9.1" height="9.15"/>
<rect class="c5" x="826.72" y="275.86" width="9.1" height="9.15"/>
<rect class="c7" x="850.05" y="275.86" width="9.1" height="9.15"/>
<rect class="c6" x="861.72" y="275.86" width="9.1" height="9.15"/>
<rect class="c3" x="885.05" y="275.86" width="9.1" height="9.15"/>
<rect class="c4" x="896.71" y="275.86" width="9.1" height="9.15"/>
<rect class="c0" x="943.37" y="275.86" width="9.1" height="9.15"/>
<rect class="c4" x="955.04" y="275.86" width="9.1" height="9.15"/>
<rect class="c5" x="593.42" y="286.49" width="9.1" height="9.15"/>
<rect class="c2" x="651.75" y="286.49" width="9.1" height="9.15"/>
<rect class="c7" x="663.41" y="286.49" width="9.1" height="9.15"/>
<rect class="c1" x="675.08" y="286.49" width="9.1" height="9.15"/>
<rect class="c0" x="698.41" y="286.49" width="9.1" height="9.15"/>
<rect class="c4" x="710.07" y="286.49" width="9.1" height="9.15"/>
<rect class="c1" x="721.74" y="286.49" width="9.1" height="9.15"/>
<rect class="c2" x="745.07" y="286.49" width="9.1" height="9.15"/>
<rect class="c8" x="756.73" y="286.49" width="9.1" height="9.15"/>
<rect class="c7" x="768.4" y="286.49" width="9.1" height="9.15"/>
<rect class="c5" x="780.06" y="286.49" width="9.1" height="9.15"/>
<rect class="c3" x="803.39" y="286.49" width="9.1" height="9.15"/>
<rect class="c8" x="815.06" y="286.49" width="9.1" height="9.15"/>
<rect class="c7" x="826.72" y="286.49" width="9.1" height="9.15"/>
<rect class="c8" x="850.05" y="286.49" width="9.1" height="9.15"/>
<rect class="c8" x="861.72" y="286.49" width="9.1" height="9.15"/>
<rect class="c7" x="873.38" y="286.49" width="9.1" height="9.15"/>
<rect class="c1" x="885.05" y="286.49" width="9.1" height="9.15"/>
<rect class="c0" x="943.37" y="286.49" width="9.1" height="9.15"/>
<rect class="c6" x="955.04" y="286.49" width="9.1" height="9.15"/>
<rect class="c5" x="593.42" y="297.12" width="9.1" height="9.15"/>
<rect class="c0" x="605.09" y="297.12" width="9.1" height="9.15"/>
<rect class="c2" x="651.75" y="297.12" width="9.1" height="9.15"/>
<rect class="c5" x="663.41" y="297.12" width="9.1" height="9.15"/>
<rect class="c4" x="698.41" y="297.12" width="9.1" height="9.15"/>
<rect class="c6" x="710.07" y="297.12" width="9.1" height="9.15"/>
<rect class="c6" x="721.74" y="297.12" width="9.1" height="9.15"/>
<rect class="c1" x="733.4" y="297.12" width="9.1" height="9.15"/>
<rect class="c4" x="756.73" y="297.12" width="9.1" height="9.15"/>
<rect class="c5" x="768.4" y="297.12" width="9.1" height="9.15"/>
<rect class="c1" x="780.06" y="297.12" width="9.1" height="9.15"/>
<rect class="c2" x="803.39" y="297.12" width="9.1" height="9.15"/>
<rect class="c8" x="815.06" y="297.12" width="9.1" height="9.15"/>
<rect class="c6" x="826.72" y="297.12" width="9.1" height="9.15"/>
<rect class="c0" x="850.05" y="297.12" width="9.1" height="9.15"/>
<rect class="c8" x="861.72" y="297.12" width="9.1" height="9.15"/>
<rect class="c8" x="873.38" y="297.12" width="9.1" height="9.15"/>
<rect class="c0" x="885.05" y="297.12" width="9.1" height="9.15"/>
<rect class="c0" x="896.71" y="297.12" width="9.1" height="9.15"/>
<rect class="c4" x="908.38" y="297.12" width="9.1" height="9.15"/>
<rect class="c0" x="920.04" y="297.12" width="9.1" height="9.15"/>
<rect class="c0" x="931.71" y="297.12" width="9.1" height="9.15"/>
<rect class="c5" x="943.37" y="297.12" width="9.1" height="9.15"/>
<rect class="c5" x="955.04" y="297.12" width="9.1" height="9.15"/>
<rect class="c0" x="593.42" y="307.75" width="9.1" height="9.15"/>
<rect class="c0" x="605.09" y="307.75" width="9.1" height="9.15"/>
<rect class="c0" x="628.42" y="307.75" width="9.1" height="9.15"/>
<rect class="c4" x="640.08" y="307.75" width="9.1" height="9.15"/>
<rect class="c3" x="651.75" y="307.75" width="9.1" height="9.15"/>
<rect class="c5" x="686.74" y="307.75" width="9.1" height="9.15"/>
<rect class="c5" x="698.41" y="307.75" width="9.1" height="9.15"/>
<rect class="c0" x="721.74" y="307.75" width="9.1" height="9.15"/>
<rect class="c0" x="733.4" y="307.75" width="9.1" height="9.15"/>
<rect class="c5" x="815.06" y="307.75" width="9.1" height="9.15"/>
<rect class="c8" x="826.72" y="307.75" width="9.1" height="9.15"/>
<rect class="c8" x="838.38" y="307.75" width="9.1" height="9.15"/>
<rect class="c4" x="850.05" y="307.75" width="9.1" height="9.15"/>
<rect class="c4" x="873.38" y="307.75" width="9.1" height="9.15"/>
<rect class="c0" x="885.05" y="307.75" width="9.1" height="9.15"/>
<rect class="c6" x="896.71" y="307.75" width="9.1" height="9.15"/>
<rect class="c8" x="908.38" y="307.75" width="9.1" height="9.15"/>
<rect class="c8" x="920.04" y="307.75" width="9.1" height="9.15"/>
<rect class="c7" x="931.71" y="307.75" width="9.1" height="9.15"/>
<rect class="c6" x="943.37" y="307.75" width="9.1" height="9.15"/>
<rect class="c0" x="955.04" y="307.75" width="9.1" height="9.15"/>
<rect class="c5" x="628.42" y="318.38" width="9.1" height="9.15"/>
<rect class="c6" x="640.08" y="318.38" width="9.1" height="9.15"/>
<rect class="c0" x="675.08" y="318.38" width="9.1" height="9.15"/>
<rect class="c5" x="686.74" y="318.38" width="9.1" height="9.15"/>
<rect class="c1" x="698.41" y="318.38" width="9.1" height="9.15"/>
<rect class="c3" x="721.74" y="318.38" width="9.1" height="9.15"/>
<rect class="c3" x="733.4" y="318.38" width="9.1" height="9.15"/>
<rect class="c4" x="780.06" y="318.38" width="9.1" height="9.15"/>
<rect class="c3" x="791.73" y="318.38" width="9.1" height="9.15"/>
<rect class="c8" x="826.72" y="318.38" width="9.1" height="9.15"/>
<rect class="c9" x="838.38" y="318.38" width="9.1" height="9.15"/>
<rect class="c8" x="850.05" y="318.38" width="9.1" height="9.15"/>
<rect class="c8" x="861.72" y="318.38" width="9.1" height="9.15"/>
<rect class="c7" x="873.38" y="318.38" width="9.1" height="9.15"/>
<rect class="c0" x="885.05" y="318.38" width="9.1" height="9.15"/>
<rect class="c1" x="896.71" y="318.38" width="9.1" height="9.15"/>
<rect class="c8" x="908.38" y="318.38" width="9.1" height="9.15"/>
<rect class="c8" x="920.04" y="318.38" width="9.1" height="9.15"/>
<rect class="c8" x="931.71" y="318.38" width="9.1" height="9.15"/>
<rect class="c8" x="943.37" y="318.38" width="9.1" height="9.15"/>
<rect class="c0" x="955.04" y="318.38" width="9.1" height="9.15"/>
<rect class="c0" x="616.75" y="329.01" width="9.1" height="9.15"/>
<rect class="c5" x="628.42" y="329.01" width="9.1" height="9.15"/>
<rect class="c0" x="640.08" y="329.01" width="9.1" height="9.15"/>
<rect class="c0" x="675.08" y="329.01" width="9.1" height="9.15"/>
<rect class="c3" x="686.74" y="329.01" width="9.1" height="9.15"/>
<rect class="c3" x="721.74" y="329.01" width="9.1" height="9.15"/>
<rect class="c2" x="733.4" y="329.01" width="9.1" height="9.15"/>
<rect class="c0" x="768.4" y="329.01" width="9.1" height="9.15"/>
<rect class="c7" x="780.06" y="329.01" width="9.1" height="9.15"/>
<rect class="c7" x="791.73" y="329.01" width="9.1" height="9.15"/>
<rect class="c4" x="803.39" y="329.01" width="9.1" height="9.15"/>
<rect class="c3" x="826.72" y="329.01" width="9.1" height="9.15"/>
<rect class="c9" x="838.38" y="329.01" width="9.1" height="9.15"/>
<rect class="ca" x="850.05" y="329.01" width="9.1" height="9.15"/>
<rect class="c9" x="861.72" y="329.01" width="9.1" height="9.15"/>
<rect class="c8" x="873.38" y="329.01" width="9.1" height="9.15"/>
<rect class="c3" x="885.05" y="329.01" width="9.1" height="9.15"/>
<rect class="c7" x="908.38" y="329.01" width="9.1" height="9.15"/>
<rect class="c8" x="920.04" y="329.01" width="9.1" height="9.15"/>
<rect class="c7" x="931.71" y="329.01" width="9.1" height="9.15"/>
<rect class="c8" x="943.37" y="329.01" width="9.1" height="9.15"/>
<rect class="c3" x="955.04" y="329.01" width="9.1" height="9.15"/>
<rect class="c0" x="616.75" y="339.64" width="9.1" height="9.15"/>
<rect class="c6" x="628.42" y="339.64" width="9.1" height="9.15"/>
<rect class="c1" x="640.08" y="339.64" width="9.1" height="9.15"/>
<rect class="c1" x="686.74" y="339.64" width="9.1" height="9.15"/>
<rect class="c3" x="698.41" y="339.64" width="9.1" height="9.15"/>
<rect class="c4" x="710.07" y="339.64" width="9.1" height="9.15"/>
<rect class="c5" x="721.74" y="339.64" width="9.1" height="9.15"/>
<rect class="c3" x="733.4" y="339.64" width="9.1" height="9.15"/>
<rect class="c0" x="745.07" y="339.64" width="9.1" height="9.15"/>
<rect class="c5" x="780.06" y="339.64" width="9.1" height="9.15"/>
<rect class="c2" x="791.73" y="339.64" width="9.1" height="9.15"/>
<rect class="c2" x="803.39" y="339.64" width="9.1" height="9.15"/>
<rect class="c5" x="815.06" y="339.64" width="9.1" height="9.15"/>
<rect class="c1" x="826.72" y="339.64" width="9.1" height="9.15"/>
<rect class="c8" x="838.38" y="339.64" width="9.1" height="9.15"/>
<rect class="c9" x="850.05" y="339.64" width="9.1" height="9.15"/>
<rect class="c9" x="861.72" y="339.64" width="9.1" height="9.15"/>
<rect class="c8" x="873.38" y="339.64" width="9.1" height="9.15"/>
<rect class="c1" x="885.05" y="339.64" width="9.1" height="9.15"/>
<rect class="c8" x="908.38" y="339.64" width="9.1" height="9.15"/>
<rect class="c8" x="920.04" y="339.64" width="9.1" height="9.15"/>
<rect class="c3" x="931.71" y="339.64" width="9.1" height="9.15"/>
<rect class="c5" x="628.42" y="350.27" width="9.1" height="9.15"/>
<rect class="c4" x="640.08" y="350.27" width="9.1" height="9.15"/>
<rect class="c7" x="698.41" y="350.27" width="9.1" height="9.15"/>
<rect class="c8" x="710.07" y="350.27" width="9.1" height="9.15"/>
<rect class="c7" x="721.74" y="350.27" width="9.1" height="9.15"/>
<rect class="c0" x="733.4" y="350.27" width="9.1" height="9.15"/>
<rect class="c1" x="780.06" y="350.27" width="9.1" height="9.15"/>
<rect class="c0" x="815.06" y="350.27" width="9.1" height="9.15"/>
<rect class="c6" x="850.05" y="350.27" width="9.1" height="9.15"/>
<rect class="c5" x="861.72" y="350.27" width="9.1" height="9.15"/>
<rect class="c2" x="873.38" y="350.27" width="9.1" height="9.15"/>
<rect class="c0" x="885.05" y="350.27" width="9.1" height="9.15"/>
<rect class="c1" x="896.71" y="350.27" width="9.1" height="9.15"/>
<rect class="c8" x="908.38" y="350.27" width="9.1" height="9.15"/>
<rect class="c8" x="920.04" y="350.27" width="9.1" height="9.15"/>
<rect class="c0" x="931.71" y="350.27" width="9.1" height="9.15"/>
<rect class="c5" x="628.42" y="360.9" width="9.1" height="9.15"/>
<rect class="c6" x="640.08" y="360.9" width="9.1" height="9.15"/>
<rect class="c7" x="698.41" y="360.9" width="9.1" height="9.15"/>
<rect class="c8" x="710.07" y="360.9" width="9.1" height="9.15"/>
<rect class="c8" x="721.74" y="360.9" width="9.1" height="9.15"/>
<rect class="c6" x="733.4" y="360.9" width="9.1" height="9.15"/>
<rect class="c5" x="745.07" y="360.9" width="9.1" height="9.15"/>
<rect class="c4" x="756.73" y="360.9" width="9.1" height="9.15"/>
<rect class="c0" x="768.4" y="360.9" width="9.1" height="9.15"/>
<rect class="c0" x="826.72" y="360.9" width="9.1" height="9.15"/>
<rect class="c2" x="838.38" y="360.9" width="9.1" height="9.15"/>
<rect class="c1" x="850.05" y="360.9" width="9.1" height="9.15"/>
<rect class="c3" x="885.05" y="360.9" width="9.1" height="9.15"/>
<rect class="c1" x="896.71" y="360.9" width="9.1" height="9.15"/>
<rect class="c7" x="908.38" y="360.9" width="9.1" height="9.15"/>
<rect class="c8" x="920.04" y="360.9" width="9.1" height="9.15"/>
<rect class="c4" x="931.71" y="360.9" width="9.1" height="9.15"/>
<line class="ax" x1="580.5" y1="20.6" x2="580.5" y2="382.85"/>
<line class="ax" x1="579.45" y1="381.8" x2="976.75" y2="381.8"/>
<line class="tk" x1="580.5" y1="376.1" x2="589.5" y2="376.1"/>
<line class="mt" x1="580.5" y1="365.47" x2="585.7" y2="365.47"/>
<line class="mt" x1="580.5" y1="354.84" x2="585.7" y2="354.84"/>
<line class="mt" x1="580.5" y1="344.21" x2="585.7" y2="344.21"/>
<line class="mt" x1="580.5" y1="333.58" x2="585.7" y2="333.58"/>
<line class="tk" x1="580.5" y1="322.95" x2="589.5" y2="322.95"/>
<line class="mt" x1="580.5" y1="312.32" x2="585.7" y2="312.32"/>
<line class="mt" x1="580.5" y1="301.69" x2="585.7" y2="301.69"/>
<line class="mt" x1="580.5" y1="291.06" x2="585.7" y2="291.06"/>
<line class="mt" x1="580.5" y1="280.43" x2="585.7" y2="280.43"/>
<line class="tk" x1="580.5" y1="269.8" x2="589.5" y2="269.8"/>
<line class="mt" x1="580.5" y1="259.17" x2="585.7" y2="259.17"/>
<line class="mt" x1="580.5" y1="248.54" x2="585.7" y2="248.54"/>
<line class="mt" x1="580.5" y1="237.91" x2="585.7" y2="237.91"/>
<line class="mt" x1="580.5" y1="227.28" x2="585.7" y2="227.28"/>
<line class="tk" x1="580.5" y1="216.65" x2="589.5" y2="216.65"/>
<line class="mt" x1="580.5" y1="206.02" x2="585.7" y2="206.02"/>
<line class="mt" x1="580.5" y1="195.39" x2="585.7" y2="195.39"/>
<line class="mt" x1="580.5" y1="184.76" x2="585.7" y2="184.76"/>
<line class="mt" x1="580.5" y1="174.13" x2="585.7" y2="174.13"/>
<line class="tk" x1="580.5" y1="163.5" x2="589.5" y2="163.5"/>
<line class="mt" x1="580.5" y1="152.87" x2="585.7" y2="152.87"/>
<line class="mt" x1="580.5" y1="142.24" x2="585.7" y2="142.24"/>
<line class="mt" x1="580.5" y1="131.61" x2="585.7" y2="131.61"/>
<line class="mt" x1="580.5" y1="120.98" x2="585.7" y2="120.98"/>
<line class="tk" x1="580.5" y1="110.35" x2="589.5" y2="110.35"/>
<line class="mt" x1="580.5" y1="99.72" x2="585.7" y2="99.72"/>
<line class="mt" x1="580.5" y1="89.09" x2="585.7" y2="89.09"/>
<line class="mt" x1="580.5" y1="78.46" x2="585.7" y2="78.46"/>
<line class="mt" x1="580.5" y1="67.83" x2="585.7" y2="67.83"/>
<line class="tk" x1="580.5" y1="57.2" x2="589.5" y2="57.2"/>
<line class="mt" x1="580.5" y1="46.57" x2="585.7" y2="46.57"/>
<line class="mt" x1="580.5" y1="35.94" x2="585.7" y2="35.94"/>
<line class="mt" x1="580.5" y1="25.31" x2="585.7" y2="25.31"/>
<line class="tk" x1="971.25" y1="381.8" x2="971.25" y2="372.8"/>
<line class="mt" x1="947.92" y1="381.8" x2="947.92" y2="376.8"/>
<line class="mt" x1="924.59" y1="381.8" x2="924.59" y2="376.8"/>
<line class="mt" x1="901.26" y1="381.8" x2="901.26" y2="376.8"/>
<line class="mt" x1="877.93" y1="381.8" x2="877.93" y2="376.8"/>
<line class="tk" x1="854.6" y1="381.8" x2="854.6" y2="372.8"/>
<line class="mt" x1="831.27" y1="381.8" x2="831.27" y2="376.8"/>
<line class="mt" x1="807.94" y1="381.8" x2="807.94" y2="376.8"/>
<line class="mt" x1="784.61" y1="381.8" x2="784.61" y2="376.8"/>
<line class="mt" x1="761.28" y1="381.8" x2="761.28" y2="376.8"/>
<line class="tk" x1="737.95" y1="381.8" x2="737.95" y2="372.8"/>
<line class="mt" x1="714.62" y1="381.8" x2="714.62" y2="376.8"/>
<line class="mt" x1="691.29" y1="381.8" x2="691.29" y2="376.8"/>
<line class="mt" x1="667.96" y1="381.8" x2="667.96" y2="376.8"/>
<line class="mt" x1="644.63" y1="381.8" x2="644.63" y2="376.8"/>
<line class="tk" x1="621.3" y1="381.8" x2="621.3" y2="372.8"/>
<line class="mt" x1="597.97" y1="381.8" x2="597.97" y2="376.8"/>
<text class="tl" transform="translate(574.8 382.4) scale(1.06 1)" text-anchor="end">0</text>
<text class="tl" transform="translate(574.8 329.25) scale(1.06 1)" text-anchor="end">5</text>
<text class="tl" transform="translate(574.8 276.1) scale(1.06 1)" text-anchor="end">10</text>
<text class="tl" transform="translate(574.8 222.95) scale(1.06 1)" text-anchor="end">15</text>
<text class="tl" transform="translate(574.8 169.8) scale(1.06 1)" text-anchor="end">20</text>
<text class="tl" transform="translate(574.8 116.65) scale(1.06 1)" text-anchor="end">25</text>
<text class="tl" transform="translate(574.8 63.5) scale(1.06 1)" text-anchor="end">30</text>
<text class="tl" transform="translate(971.25 398.8) scale(1.04 1)" text-anchor="middle">0</text>
<text class="tl" transform="translate(854.6 398.8) scale(1.04 1)" text-anchor="middle">10</text>
<text class="tl" transform="translate(737.95 398.8) scale(1.04 1)" text-anchor="middle">20</text>
<text class="tl" transform="translate(621.3 398.8) scale(1.04 1)" text-anchor="middle">30</text>
<text class="al" transform="translate(779.4 412.1) scale(1.04 1)" text-anchor="middle">IY</text>
<text class="al" transform="translate(548.2 200.6) rotate(-90)" text-anchor="middle">IX</text>
<text class="tt" transform="translate(782.7 17.6) scale(0.965 1)" text-anchor="middle">TRANSMISSION LOSS MAP [dB]</text>
<rect x="969.9" y="46.6" width="17.6" height="14.4" fill="#ff0400"/>
<rect x="969.9" y="60.6" width="17.6" height="9.78" fill="#ff2000"/>
<rect x="969.9" y="69.98" width="17.6" height="9.78" fill="#ff4000"/>
<rect x="969.9" y="79.36" width="17.6" height="9.78" fill="#ff6000"/>
<rect x="969.9" y="88.74" width="17.6" height="9.78" fill="#ff7c00"/>
<rect x="969.9" y="98.12" width="17.6" height="9.78" fill="#ffa000"/>
<rect x="969.9" y="107.5" width="17.6" height="9.78" fill="#ffc800"/>
<rect x="969.9" y="116.88" width="17.6" height="9.78" fill="#f8f400"/>
<rect x="969.9" y="126.26" width="17.6" height="9.78" fill="#d8f800"/>
<rect x="969.9" y="135.64" width="17.6" height="9.78" fill="#b8fc00"/>
<rect x="969.9" y="145.02" width="17.6" height="9.78" fill="#98fc00"/>
<rect x="969.9" y="154.4" width="17.6" height="9.78" fill="#80fc00"/>
<rect x="969.9" y="163.78" width="17.6" height="9.78" fill="#70fc00"/>
<rect x="969.9" y="173.16" width="17.6" height="9.78" fill="#60fc00"/>
<rect x="969.9" y="182.54" width="17.6" height="9.78" fill="#58fc00"/>
<rect x="969.9" y="191.92" width="17.6" height="9.78" fill="#58fc00"/>
<rect x="969.9" y="201.3" width="17.6" height="9.78" fill="#58fc00"/>
<rect x="969.9" y="210.68" width="17.6" height="9.78" fill="#58fc00"/>
<rect x="969.9" y="220.06" width="17.6" height="9.78" fill="#58fc00"/>
<rect x="969.9" y="229.44" width="17.6" height="9.78" fill="#58fc20"/>
<rect x="969.9" y="238.82" width="17.6" height="9.78" fill="#60fc40"/>
<rect x="969.9" y="248.2" width="17.6" height="9.78" fill="#60fc60"/>
<rect x="969.9" y="257.58" width="17.6" height="9.78" fill="#68fc80"/>
<rect x="969.9" y="266.96" width="17.6" height="9.78" fill="#70fca0"/>
<rect x="969.9" y="276.34" width="17.6" height="9.78" fill="#70fcc0"/>
<rect x="969.9" y="285.72" width="17.6" height="9.78" fill="#70fce0"/>
<rect x="969.9" y="295.1" width="17.6" height="9.78" fill="#60ecfc"/>
<rect x="969.9" y="304.48" width="17.6" height="9.78" fill="#48a8f8"/>
<rect x="969.9" y="313.86" width="17.6" height="9.78" fill="#3a7af8"/>
<rect x="969.9" y="323.24" width="17.6" height="9.78" fill="#3060f8"/>
<rect x="969.9" y="332.62" width="17.6" height="9.78" fill="#2848f8"/>
<rect x="969.9" y="342" width="17.6" height="14.2" fill="#2040fa"/>
<text class="cl" x="992.7" y="57.1">-24</text>
<text class="cl" x="992.7" y="94.64">-26</text>
<text class="cl" x="992.7" y="132.18">-28</text>
<text class="cl" x="992.7" y="169.72">-30</text>
<text class="cl" x="992.7" y="207.26">-32</text>
<text class="cl" x="992.7" y="244.8">-34</text>
<text class="cl" x="992.7" y="282.34">-36</text>
<text class="cl" x="992.7" y="319.88">-38</text>
<text class="cl" x="992.7" y="357.42">-40</text>
<text class="cap" x="168.6" y="470">(a)</text>
<g transform="translate(0 0)"><path d="M218.3 455.1C217.6 453.5 215.3 453.7 214.3 456.2C213 460 212.1 465 210.6 470.2C209.9 472.6 207.9 473.5 206.3 472.5" fill="none" stroke="#000" stroke-width="1.35"/><path d="M209.8 459.5H216" stroke="#000" stroke-width="0.95"/><circle cx="218" cy="455.5" r="1.05"/><circle cx="206.2" cy="472.1" r="1.05"/></g>
<text class="cap" x="226" y="470">=</text>
<text class="cap" x="247" y="470">200</text>
<text class="cap" transform="translate(284.2 470) scale(1.05 1)" font-style="italic">Hz</text>
<text class="cap" x="703.7" y="470">(b)</text>
<g transform="translate(536.8 0)"><path d="M218.3 455.1C217.6 453.5 215.3 453.7 214.3 456.2C213 460 212.1 465 210.6 470.2C209.9 472.6 207.9 473.5 206.3 472.5" fill="none" stroke="#000" stroke-width="1.35"/><path d="M209.8 459.5H216" stroke="#000" stroke-width="0.95"/><circle cx="218" cy="455.5" r="1.05"/><circle cx="206.2" cy="472.1" r="1.05"/></g>
<text class="cap" x="762.8" y="470">=</text>
<text class="cap" x="783.8" y="470">500</text>
<text class="cap" transform="translate(821 470) scale(1.05 1)" font-style="italic">Hz</text>
</svg>
</body></html>
